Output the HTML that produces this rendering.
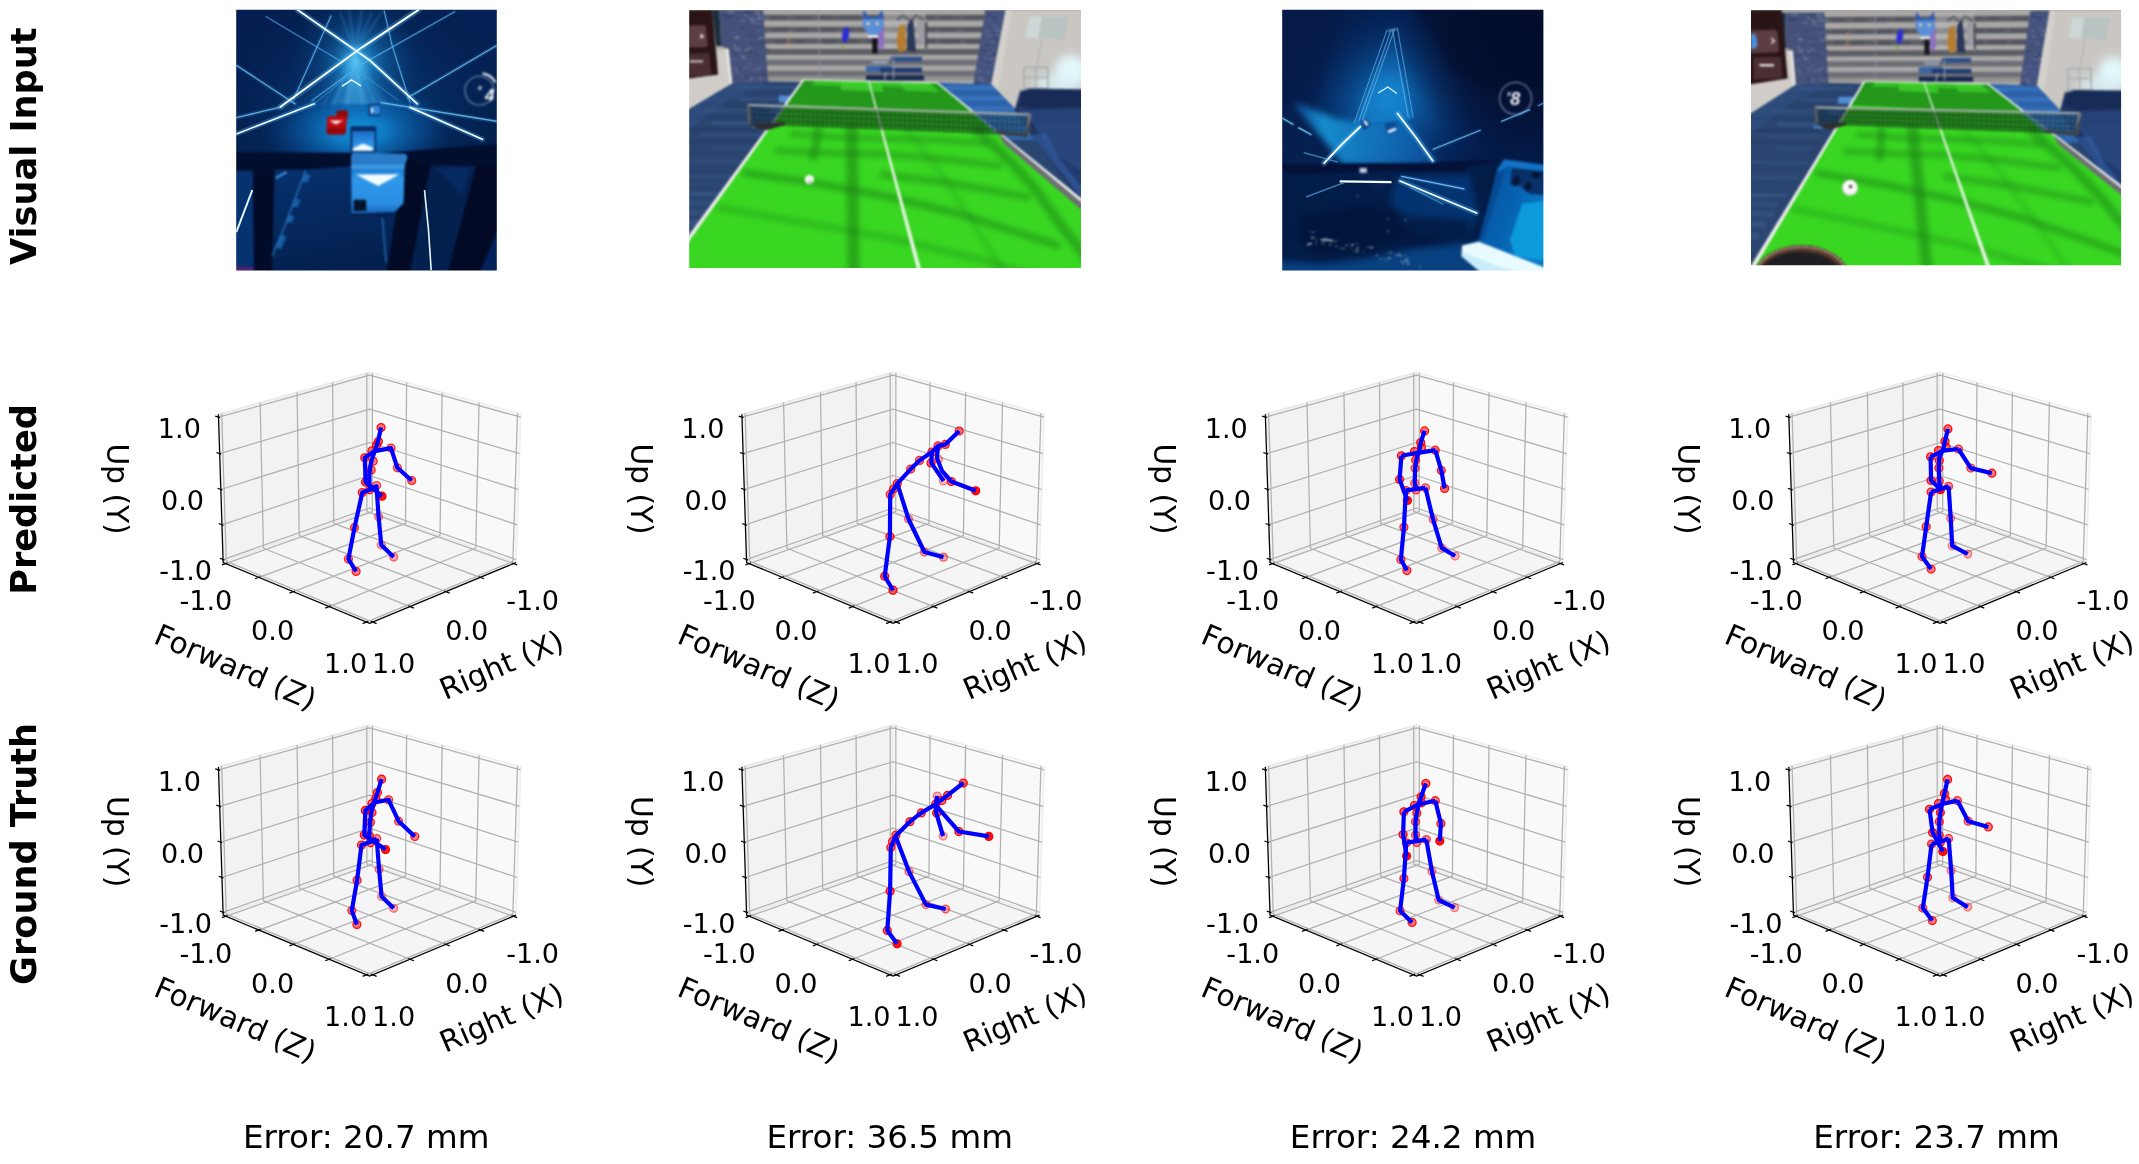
<!DOCTYPE html>
<html lang="en"><head><meta charset="utf-8"><title>Pose estimation: visual input, predicted and ground truth</title>
<style>html,body{margin:0;padding:0;background:#fff}svg{display:block}</style></head>
<body><svg width="2139" height="1164" viewBox="0 0 2139 1164" font-family="'DejaVu Sans','Liberation Sans',sans-serif" fill="#000"><defs><filter id="gs" x="0" y="0" width="100%" height="100%" filterUnits="userSpaceOnUse" color-interpolation-filters="sRGB"><feColorMatrix type="saturate" values="0"/></filter></defs><rect width="2139" height="1164" fill="#fff"/><defs><radialGradient id="u1"><stop offset="0" stop-color="#0a4f90" stop-opacity="0.7"/><stop offset="0.5" stop-color="#073e7c" stop-opacity="0.4"/><stop offset="1" stop-color="#063a7a" stop-opacity="0"/></radialGradient><radialGradient id="u2"><stop offset="0" stop-color="#2aa0e6" stop-opacity="0.8"/><stop offset="0.5" stop-color="#1780cc" stop-opacity="0.4"/><stop offset="1" stop-color="#0f60b0" stop-opacity="0"/></radialGradient><radialGradient id="u3"><stop offset="0" stop-color="#1596e0" stop-opacity="1"/><stop offset="0.3" stop-color="#0f80cc" stop-opacity="0.9"/><stop offset="0.7" stop-color="#0a5aa6" stop-opacity="0.5"/><stop offset="1" stop-color="#084a92" stop-opacity="0"/></radialGradient><radialGradient id="u4" gradientUnits="userSpaceOnUse" cx="356" cy="62" r="66"><stop offset="0" stop-color="#4cc4f6" stop-opacity="0.9"/><stop offset="0.3" stop-color="#1f8cd0" stop-opacity="0.5"/><stop offset="1" stop-color="#0d4e9a" stop-opacity="0"/></radialGradient><radialGradient id="u5" gradientUnits="userSpaceOnUse" cx="240" cy="20" r="120"><stop offset="0" stop-color="#061d52" stop-opacity="0.8"/><stop offset="1" stop-color="#061d52" stop-opacity="0"/></radialGradient><radialGradient id="u6" gradientUnits="userSpaceOnUse" cx="497" cy="15" r="110"><stop offset="0" stop-color="#07225a" stop-opacity="0.8"/><stop offset="1" stop-color="#07225a" stop-opacity="0"/></radialGradient><linearGradient id="u7" gradientUnits="userSpaceOnUse" x1="300" y1="170" x2="320" y2="275"><stop offset="0" stop-color="#07306c" stop-opacity="1"/><stop offset="1" stop-color="#03204e" stop-opacity="1"/></linearGradient><linearGradient id="u8" gradientUnits="userSpaceOnUse" x1="352" y1="131" x2="352" y2="151"><stop offset="0" stop-color="#1a6cc2" stop-opacity="1"/><stop offset="0.6" stop-color="#2c90e4" stop-opacity="1"/><stop offset="1" stop-color="#3aa4f0" stop-opacity="1"/></linearGradient><linearGradient id="u9" gradientUnits="userSpaceOnUse" x1="352" y1="165" x2="352" y2="213"><stop offset="0" stop-color="#1a74cc" stop-opacity="1"/><stop offset="0.3" stop-color="#2f98ea" stop-opacity="1"/><stop offset="0.8" stop-color="#2a8ee2" stop-opacity="1"/><stop offset="1" stop-color="#1868bf" stop-opacity="1"/></linearGradient><clipPath id="u10"><rect x="236.2" y="9.7" width="260.6" height="260.8"/></clipPath><filter id="u11" x="206.2" y="-20.3" width="320.6" height="320.8" filterUnits="userSpaceOnUse" color-interpolation-filters="sRGB"><feGaussianBlur stdDeviation="0.8"/></filter><filter id="u12" x="206.2" y="-20.3" width="320.6" height="320.8" filterUnits="userSpaceOnUse" color-interpolation-filters="sRGB"><feGaussianBlur stdDeviation="0.6"/></filter><filter id="u13" x="659.2" y="-20" width="451.8" height="317.9" filterUnits="userSpaceOnUse" color-interpolation-filters="sRGB"><feGaussianBlur stdDeviation="5"/></filter><clipPath id="u14"><polygon points="640,138 732.5,83.2 768,81.6 810,80 640,316"/></clipPath><clipPath id="u15"><polygon points="936.5,82.6 991.3,84.4 1014.7,108.5 1036,140 1010,140"/></clipPath><clipPath id="u16"><polygon points="803.5,79.6 936.5,82.6 1130,241.3 1130,300 644.7,300"/></clipPath><filter id="u17" x="659.2" y="-20" width="451.8" height="317.9" filterUnits="userSpaceOnUse" color-interpolation-filters="sRGB"><feGaussianBlur stdDeviation="2.4"/></filter><clipPath id="u18"><rect x="689.2" y="10" width="391.8" height="257.9"/></clipPath><filter id="u19" x="659.2" y="-20" width="451.8" height="317.9" filterUnits="userSpaceOnUse" color-interpolation-filters="sRGB"><feGaussianBlur stdDeviation="0.8"/></filter><radialGradient id="u20" gradientUnits="userSpaceOnUse" cx="1388" cy="100" r="120"><stop offset="0" stop-color="#1488d4" stop-opacity="0.9"/><stop offset="0.3" stop-color="#0c62b0" stop-opacity="0.7"/><stop offset="0.7" stop-color="#07387c" stop-opacity="0.3"/><stop offset="1" stop-color="#052c68" stop-opacity="0"/></radialGradient><radialGradient id="u21" gradientUnits="userSpaceOnUse" cx="1530" cy="25" r="135"><stop offset="0" stop-color="#030a24" stop-opacity="0.9"/><stop offset="0.6" stop-color="#040f30" stop-opacity="0.8"/><stop offset="1" stop-color="#040f30" stop-opacity="0"/></radialGradient><radialGradient id="u22" gradientUnits="userSpaceOnUse" cx="1290" cy="20" r="110"><stop offset="0" stop-color="#051a46" stop-opacity="0.8"/><stop offset="1" stop-color="#051a46" stop-opacity="0"/></radialGradient><linearGradient id="u23" gradientUnits="userSpaceOnUse" x1="1295" y1="0" x2="1440" y2="0"><stop offset="0" stop-color="#0c4e98" stop-opacity="1"/><stop offset="0.2" stop-color="#158ccc" stop-opacity="1"/><stop offset="0.6" stop-color="#1272bc" stop-opacity="0.9"/><stop offset="1" stop-color="#0d58a6" stop-opacity="0.7"/></linearGradient><filter id="u24" x="1252.2" y="-20.3" width="321.2" height="320.8" filterUnits="userSpaceOnUse" color-interpolation-filters="sRGB"><feGaussianBlur stdDeviation="3.2"/></filter><linearGradient id="u25" gradientUnits="userSpaceOnUse" x1="1390" y1="30" x2="1386" y2="122"><stop offset="0" stop-color="#1478c8" stop-opacity="0.1"/><stop offset="0.6" stop-color="#1c94e0" stop-opacity="0.5"/><stop offset="1" stop-color="#168ad8" stop-opacity="0.6"/></linearGradient><linearGradient id="u26" gradientUnits="userSpaceOnUse" x1="1470" y1="200" x2="1545" y2="230"><stop offset="0" stop-color="#07509e" stop-opacity="1"/><stop offset="0.5" stop-color="#0662b0" stop-opacity="1"/><stop offset="1" stop-color="#0a7cc6" stop-opacity="1"/></linearGradient><clipPath id="u27"><rect x="1282.2" y="9.7" width="261.2" height="260.8"/></clipPath><filter id="u28" x="1252.2" y="-20.3" width="321.2" height="320.8" filterUnits="userSpaceOnUse" color-interpolation-filters="sRGB"><feGaussianBlur stdDeviation="0.8"/></filter><filter id="u29" x="1252.2" y="-20.3" width="321.2" height="320.8" filterUnits="userSpaceOnUse" color-interpolation-filters="sRGB"><feGaussianBlur stdDeviation="0.6"/></filter><filter id="u30" x="1721" y="-20" width="430.1" height="315.3" filterUnits="userSpaceOnUse" color-interpolation-filters="sRGB"><feGaussianBlur stdDeviation="5"/></filter><clipPath id="u31"><polygon points="1711.6,138.6 1795.9,84.5 1828.3,82.9 1866.9,81.3 1708,318.7"/></clipPath><clipPath id="u32"><polygon points="1984.9,83.8 2037,85.7 2059.9,110.3 2081.1,142.7 2055.9,142.6"/></clipPath><clipPath id="u33"><polygon points="1864.6,81.1 1986.8,83.5 2205.1,252.9 2218.3,321.6 1729,306.7"/></clipPath><filter id="u34" x="1721" y="-20" width="430.1" height="315.3" filterUnits="userSpaceOnUse" color-interpolation-filters="sRGB"><feGaussianBlur stdDeviation="2.4"/></filter><clipPath id="u35"><rect x="1751" y="10" width="370.1" height="255.3"/></clipPath><filter id="u36" x="1721" y="-20" width="430.1" height="315.3" filterUnits="userSpaceOnUse" color-interpolation-filters="sRGB"><feGaussianBlur stdDeviation="0.8"/></filter></defs><g clip-path="url(#u10)"><g filter="url(#u11)"><rect x="230" y="4" width="274" height="274" fill="#031f4c"/><ellipse cx="356" cy="100" rx="150" ry="110" fill="url(#u1)"/><ellipse cx="355" cy="75" rx="30" ry="55" fill="url(#u2)"/><ellipse cx="358" cy="130" rx="92" ry="52" fill="url(#u3)"/><rect x="230" y="4" width="274" height="160" fill="url(#u4)"/><rect x="230" y="4" width="274" height="274" fill="url(#u5)"/><rect x="230" y="4" width="274" height="274" fill="url(#u6)"/><polygon points="355,52 330,104 384,104" fill="#56c4fb" opacity=".2"/><polygon points="355,52 343,104 368,104" fill="#7ad6ff" opacity=".18"/><polyline points="355,52 322,106" fill="none" stroke="#8fdcff" stroke-width="0.9" opacity=".3"/><polyline points="355,52 333,106" fill="none" stroke="#8fdcff" stroke-width="0.9" opacity=".3"/><polyline points="355,52 347,106" fill="none" stroke="#8fdcff" stroke-width="0.9" opacity=".3"/><polyline points="355,52 362,106" fill="none" stroke="#8fdcff" stroke-width="0.9" opacity=".3"/><polyline points="355,52 375,106" fill="none" stroke="#8fdcff" stroke-width="0.9" opacity=".3"/><polyline points="355,52 388,106" fill="none" stroke="#8fdcff" stroke-width="0.9" opacity=".3"/><polyline points="355,52 340,12" fill="none" stroke="#6fc8fa" stroke-width="0.9" opacity=".4"/><polyline points="355,52 349,10" fill="none" stroke="#6fc8fa" stroke-width="0.9" opacity=".4"/><polyline points="355,52 362,10" fill="none" stroke="#6fc8fa" stroke-width="0.9" opacity=".4"/><polyline points="355,52 372,12" fill="none" stroke="#6fc8fa" stroke-width="0.9" opacity=".4"/><polyline points="355,52 383,10" fill="none" stroke="#6fc8fa" stroke-width="0.9" opacity=".4"/><circle cx="479.3" cy="90.6" r="14.4" fill="none" stroke="#8fb4d6" stroke-width="1.1" opacity=".75"/><path d="M482.5,73.5 A17,17 0 0 1 495.5,82.5" fill="none" stroke="#f3f8fc" stroke-width="2"/><text x="485" y="100.5" font-size="17" font-weight="bold" font-style="italic" fill="#f4f7fb" font-family="'Liberation Sans','DejaVu Sans',sans-serif">4</text><text x="477.8" y="89.8" font-size="8" font-weight="bold" font-style="italic" fill="#e6edf5" font-family="'Liberation Sans','DejaVu Sans',sans-serif">x</text><polygon points="230,171 272,169.5 306,169.5 350,166 408,159 431,165 504,150 504,278 230,278" fill="#04225a" /><polygon points="274.5,169.7 352,166.5 352,213 405,213 390,278 272,278" fill="url(#u7)" /><polygon points="430.6,164.9 476.3,164.9 446,278 409,278" fill="#04204f" /><polygon points="230,171 252.9,169.7 254.1,278 230,278" fill="#063270" /><polygon points="252.9,169.7 274.5,169.7 272.1,278 254.1,278" fill="#020b28" /><polygon points="404,158.9 430.6,164.9 408.9,278 386.1,278" fill="#020a26" /><polygon points="476.3,164.9 504,146 504,215 477.5,278 446.2,278" fill="#020a26" /><polygon points="436,168 470,168 463,196" fill="#07306c" opacity=".6"/><polygon points="230,152.2 361.1,152.8 350.3,166.3 306,169.8 272,169.8 230,171.2" fill="#020e2e" /><polygon points="375,153.5 504,143.5 504,166 431,165.4 404.5,159.4 398,165.5 375,166" fill="#020e2e" /><polyline points="305.8,170.3 296,196 285,226 272.1,256.3" fill="none" stroke="#2a80cc" stroke-width="1.4" opacity=".85"/><polygon points="304.5,173.7 310.5,174.7 307.4,182.5 301.4,181.5" fill="#1f70bc" opacity=".75"/><polygon points="294.7,198.7 300.7,199.7 297.6,207.4 291.6,206.4" fill="#1f70bc" opacity=".75"/><polygon points="288.3,215 294.3,216 291.6,222.9 285.6,221.9" fill="#1f70bc" opacity=".75"/><polygon points="280.5,234.8 286.5,235.8 281.5,248.7 275.5,247.7" fill="#1f70bc" opacity=".75"/><polyline points="275.7,178.1 286.5,172.1" fill="none" stroke="#4aa8ec" stroke-width="2" opacity=".9"/><polyline points="382.4,217.8 386.1,262.3" fill="none" stroke="#3a8fd8" stroke-width="1.2" opacity=".8"/><polygon points="236,266.5 254,267.5 254,271 236,271" fill="#5a1d74" /><polygon points="368.6,104.4 380,103.2 381.2,114.5 379.5,115.9 369.5,115.9 368.4,114.5" fill="#0e2f6e" /><polygon points="370.3,106 379.7,105.2 380.2,114.2 370.8,114.6" fill="#2f86d8" /><polygon points="370.8,106.8 373.8,110.4 370.9,114" fill="#eef9ff" /><polygon points="336.5,111.5 338,110.4 346.5,110.2 347.9,111.5 347.5,119.5 336.2,119.5" fill="#8f080c" /><polygon points="327.2,117.5 329,115.9 344.5,115.7 346.7,117.4 346,132.5 344,134.5 328.5,134.5 326.4,132.6" fill="#bb0a10" /><polygon points="327.2,128 346.3,128 346,132.5 344,134.5 328.5,134.5 326.4,132.6" fill="#8a060a" opacity=".8"/><polygon points="329.2,120.5 343.1,120.5 336,124.6" fill="#fbefee" /><polygon points="350.2,127.5 352,126.3 375,126.3 376.3,127.8 376,152.6 350.6,152.6" fill="#0a2c66" /><polygon points="352.3,131 374.6,131 374.3,151 352.6,151" fill="url(#u8)" /><polygon points="352.7,148.6 363,143.6 372.6,147.6 372.6,150.8 352.7,150.8" fill="#f2fbff" /><polygon points="351.1,155 353.5,152.4 405.5,153.8 407.7,156.5 404.5,166.5 351.1,166.5" fill="#2a7cc8" /><polygon points="351.3,164.5 404.6,164.5 403.6,203 395,212.2 351.6,213.6" fill="url(#u9)" /><polygon points="351.3,164.5 404.6,164.5 404.4,169 351.3,169" fill="#3f9ae2" opacity=".9"/><polygon points="356,174.4 399.5,174.2 378.2,186" fill="#f4fcff" /><polygon points="353.5,199.7 366,199.7 366.4,210.8 353.7,211.2" fill="#04122c" /><polygon points="352,213.6 395,212.2 393,216.5 352,217.5" fill="#06204e" opacity=".8"/></g><g filter="url(#u12)"><polyline points="266.1,16.6 339.5,60.5" fill="none" stroke="#2f9be6" stroke-width="2.6" opacity="0.2" stroke-linecap="round"/><polyline points="266.1,16.6 339.5,60.5" fill="none" stroke="#7cc6f2" stroke-width="0.8" opacity="0.7" stroke-linecap="round"/><polyline points="331,16 293.7,99" fill="none" stroke="#2f9be6" stroke-width="3.4" opacity="0.2" stroke-linecap="round"/><polyline points="331,16 293.7,99" fill="none" stroke="#7cc6f2" stroke-width="1" opacity="0.8" stroke-linecap="round"/><polyline points="236.3,65.3 295,103.8" fill="none" stroke="#3aa8ee" stroke-width="3.9" opacity="0.2" stroke-linecap="round"/><polyline points="236.3,65.3 295,103.8" fill="none" stroke="#7cc6f2" stroke-width="1.2" opacity="0.8" stroke-linecap="round"/><polyline points="454.6,11.8 362,64.1 312,100.5" fill="none" stroke="#2f9be6" stroke-width="3.1" opacity="0.2" stroke-linecap="round"/><polyline points="454.6,11.8 362,64.1 312,100.5" fill="none" stroke="#7cc6f2" stroke-width="1" opacity="0.7" stroke-linecap="round"/><polyline points="384.3,11.2 392,45 410.1,102.6" fill="none" stroke="#2f9be6" stroke-width="3.1" opacity="0.2" stroke-linecap="round"/><polyline points="384.3,11.2 392,45 410.1,102.6" fill="none" stroke="#7cc6f2" stroke-width="1" opacity="0.7" stroke-linecap="round"/><polyline points="496.7,45.5 407.7,97.8" fill="none" stroke="#3aa8ee" stroke-width="3.9" opacity="0.2" stroke-linecap="round"/><polyline points="496.7,45.5 407.7,97.8" fill="none" stroke="#7cc6f2" stroke-width="1.2" opacity="0.8" stroke-linecap="round"/><polyline points="362,73.8 398,100.2" fill="none" stroke="#2f9be6" stroke-width="2.6" opacity="0.1" stroke-linecap="round"/><polyline points="362,73.8 398,100.2" fill="none" stroke="#5aaee6" stroke-width="0.8" opacity="0.5" stroke-linecap="round"/><polyline points="236.3,117.7 281.7,106.8" fill="none" stroke="#3aa8ee" stroke-width="4.2" opacity="0.2" stroke-linecap="round"/><polyline points="236.3,117.7 281.7,106.8" fill="none" stroke="#7cc6f2" stroke-width="1.3" opacity="0.8" stroke-linecap="round"/><polyline points="236.3,133.9 314.2,103.8" fill="none" stroke="#49b6f5" stroke-width="5.2" opacity="0.3" stroke-linecap="round"/><polyline points="236.3,133.9 314.2,103.8" fill="none" stroke="#f2fcff" stroke-width="1.6" opacity="1" stroke-linecap="round"/><polyline points="314.2,103.8 362.3,64.1" fill="none" stroke="#2f9be6" stroke-width="2.6" opacity="0.1" stroke-linecap="round"/><polyline points="314.2,103.8 362.3,64.1" fill="none" stroke="#5aaee6" stroke-width="0.8" opacity="0.5" stroke-linecap="round"/><polyline points="381.2,102.6 496.7,121.3" fill="none" stroke="#3aa8ee" stroke-width="4.4" opacity="0.2" stroke-linecap="round"/><polyline points="381.2,102.6 496.7,121.3" fill="none" stroke="#7cc6f2" stroke-width="1.4" opacity="0.8" stroke-linecap="round"/><polyline points="410.1,107.4 482.3,139.3" fill="none" stroke="#49b6f5" stroke-width="5.5" opacity="0.3" stroke-linecap="round"/><polyline points="410.1,107.4 482.3,139.3" fill="none" stroke="#f6fdff" stroke-width="1.7" opacity="1" stroke-linecap="round"/><polyline points="297.4,9.8 370,60.5 417.3,103.8" fill="none" stroke="#55bff8" stroke-width="5.7" opacity="0.3" stroke-linecap="round"/><polyline points="297.4,9.8 370,60.5 417.3,103.8" fill="none" stroke="#f6fdff" stroke-width="1.8" opacity="1" stroke-linecap="round"/><polyline points="418.5,9.8 362,47.3 280.5,106.8" fill="none" stroke="#55bff8" stroke-width="6.5" opacity="0.3" stroke-linecap="round"/><polyline points="418.5,9.8 362,47.3 280.5,106.8" fill="none" stroke="#fafeff" stroke-width="2" opacity="1" stroke-linecap="round"/><polyline points="341.9,86.4 351.5,79.8 361.1,85.8" fill="none" stroke="#e8f9ff" stroke-width="1.5" stroke-linejoin="miter"/><polyline points="252.3,190.1 236.3,232.2" fill="none" stroke="#e6fbff" stroke-width="1.9" /><polyline points="424.5,190.1 428.5,230 431.2,270.5" fill="none" stroke="#e6fbff" stroke-width="1.6" /></g></g><g clip-path="url(#u18)"><g filter="url(#u19)"><rect x="684.2" y="5" width="401.8" height="267.9" fill="#a9a7a5"/><polygon points="755,14.7 995,14.7 995,20.5 755,20.5" fill="#5c5e66" /><polygon points="755,26.8 995,26.8 995,32.6 755,32.6" fill="#5c5e66" /><polygon points="755,38.2 995,38.2 995,44 755,44" fill="#5c5e66" /><polygon points="755,49 995,49 995,54.8 755,54.8" fill="#5c5e66" /><polygon points="755,59.8 995,59.8 995,65.6 755,65.6" fill="#6e6f76" /><polygon points="755,70.7 995,70.7 995,76.5 755,76.5" fill="#6e6f76" /><polygon points="770.4,15.3 785.3,15.3 785.3,19.9 770.4,19.9" fill="#4d505c" opacity=".6"/><polygon points="795.2,15.3 810.7,15.3 810.7,19.9 795.2,19.9" fill="#4d505c" opacity=".6"/><polygon points="820.8,15.3 831.3,15.3 831.3,19.9 820.8,19.9" fill="#4d505c" opacity=".6"/><polygon points="841.1,15.3 858.6,15.3 858.6,19.9 841.1,19.9" fill="#4d505c" opacity=".6"/><polygon points="866.6,15.3 878.7,15.3 878.7,19.9 866.6,19.9" fill="#4d505c" opacity=".6"/><polygon points="895,15.3 909.2,15.3 909.2,19.9 895,19.9" fill="#4d505c" opacity=".6"/><polygon points="918,15.3 932.3,15.3 932.3,19.9 918,19.9" fill="#4d505c" opacity=".6"/><polygon points="940.8,15.3 952.2,15.3 952.2,19.9 940.8,19.9" fill="#4d505c" opacity=".6"/><polygon points="964.8,15.3 982.6,15.3 982.6,19.9 964.8,19.9" fill="#4d505c" opacity=".6"/><polygon points="772.1,27.4 788.8,27.4 788.8,32 772.1,32" fill="#4d505c" opacity=".6"/><polygon points="797,27.4 807.6,27.4 807.6,32 797,32" fill="#4d505c" opacity=".6"/><polygon points="821.5,27.4 836.9,27.4 836.9,32 821.5,32" fill="#4d505c" opacity=".6"/><polygon points="842.8,27.4 853.1,27.4 853.1,32 842.8,32" fill="#4d505c" opacity=".6"/><polygon points="870.2,27.4 884.4,27.4 884.4,32 870.2,32" fill="#4d505c" opacity=".6"/><polygon points="893.3,27.4 911.2,27.4 911.2,32 893.3,32" fill="#4d505c" opacity=".6"/><polygon points="917.3,27.4 935.6,27.4 935.6,32 917.3,32" fill="#4d505c" opacity=".6"/><polygon points="939.4,27.4 956.6,27.4 956.6,32 939.4,32" fill="#4d505c" opacity=".6"/><polygon points="963.7,27.4 982.1,27.4 982.1,32 963.7,32" fill="#4d505c" opacity=".6"/><polygon points="774.3,38.8 785.2,38.8 785.2,43.4 774.3,43.4" fill="#4d505c" opacity=".6"/><polygon points="793.8,38.8 805.8,38.8 805.8,43.4 793.8,43.4" fill="#4d505c" opacity=".6"/><polygon points="822.8,38.8 836.7,38.8 836.7,43.4 822.8,43.4" fill="#4d505c" opacity=".6"/><polygon points="844.8,38.8 857.5,38.8 857.5,43.4 844.8,43.4" fill="#4d505c" opacity=".6"/><polygon points="868,38.8 881.5,38.8 881.5,43.4 868,43.4" fill="#4d505c" opacity=".6"/><polygon points="891.1,38.8 906.4,38.8 906.4,43.4 891.1,43.4" fill="#4d505c" opacity=".6"/><polygon points="916.5,38.8 934.6,38.8 934.6,43.4 916.5,43.4" fill="#4d505c" opacity=".6"/><polygon points="941.1,38.8 959.5,38.8 959.5,43.4 941.1,43.4" fill="#4d505c" opacity=".6"/><polygon points="966.1,38.8 985.1,38.8 985.1,43.4 966.1,43.4" fill="#4d505c" opacity=".6"/><polygon points="818.5,10 819.7,10 819.7,80 818.5,80" fill="#9a9a9c" opacity=".6"/><polygon points="766,76.5 988,76.5 988,80.5 766,80.5" fill="#8d8c8c" opacity=".8"/><polygon points="640,10 712.1,10 718.1,74.8 640,85" fill="#2a1416" /><polygon points="712.1,10 719.3,10 721.1,45.9 716.3,46" fill="#1b2c3a" /><polygon points="680,26 705.5,25 708,45 706,47.3 680,47.4" fill="#5c3d41" /><polygon points="680,53.5 709,53.1 711.5,73 709,76 680,76.5" fill="#4a2e32" /><polygon points="700.5,33.6 704.5,36.3 700.5,39" fill="#e8e0e0" /><polygon points="689.5,60.3 703,60.3 703,62.5 689.5,62.5" fill="#c9b9ba" /><polygon points="716.9,49.5 728.9,48.9 732.5,83.2 640,138 640,85 718.1,74.8" fill="#d0cdc8" /><polygon points="728.9,48.9 732.5,83.2 729.5,85 725.5,49.1" fill="#e6e4e0" /><polygon points="719.3,10 763.2,10 768,82 732.5,83.2 728.9,48.9 721.1,45.9" fill="#465179" /><polygon points="749.9,22.3 756.7,22.3 756.7,23.9 749.9,23.9" fill="#5b6a98" opacity=".75"/><polygon points="759.9,50.3 765.5,50.3 765.5,51.9 759.9,51.9" fill="#44609a" opacity=".75"/><polygon points="748.2,79.2 752.4,79.2 752.4,80.8 748.2,80.8" fill="#5b6a98" opacity=".75"/><polygon points="763.6,17.1 768.2,17.1 768.2,18.7 763.6,18.7" fill="#6e7696" opacity=".75"/><polygon points="727.5,31.3 734,31.3 734,32.9 727.5,32.9" fill="#2f3b66" opacity=".75"/><polygon points="735.2,71.8 740.3,71.8 740.3,73.4 735.2,73.4" fill="#5b6a98" opacity=".75"/><polygon points="763.9,32.4 767.4,32.4 767.4,34 763.9,34" fill="#6e7696" opacity=".75"/><polygon points="744,76.5 748.2,76.5 748.2,78.1 744,78.1" fill="#2f3b66" opacity=".75"/><polygon points="732.3,58.6 736.6,58.6 736.6,60.2 732.3,60.2" fill="#5b6a98" opacity=".75"/><polygon points="762.2,72.9 766.7,72.9 766.7,74.5 762.2,74.5" fill="#2f3b66" opacity=".75"/><polygon points="758.4,37.6 764.1,37.6 764.1,39.2 758.4,39.2" fill="#7d86a4" opacity=".75"/><polygon points="755.9,29.7 761.8,29.7 761.8,31.3 755.9,31.3" fill="#44609a" opacity=".75"/><polygon points="731.2,31.8 736.3,31.8 736.3,33.4 731.2,33.4" fill="#5b6a98" opacity=".75"/><polygon points="744.6,11.8 751.5,11.8 751.5,13.4 744.6,13.4" fill="#2f3b66" opacity=".75"/><polygon points="734.5,37 740.1,37 740.1,38.6 734.5,38.6" fill="#7d86a4" opacity=".75"/><polygon points="741,57.9 746.5,57.9 746.5,59.5 741,59.5" fill="#5b6a98" opacity=".75"/><polygon points="733,44.8 736.2,44.8 736.2,46.4 733,46.4" fill="#7d86a4" opacity=".75"/><polygon points="750.1,77.5 755.6,77.5 755.6,79.1 750.1,79.1" fill="#5b6a98" opacity=".75"/><polygon points="733.8,52.5 738.3,52.5 738.3,54.1 733.8,54.1" fill="#3a4672" opacity=".75"/><polygon points="734.4,36.5 738.5,36.5 738.5,38.1 734.4,38.1" fill="#7d86a4" opacity=".75"/><polygon points="754.9,18.2 761.7,18.2 761.7,19.8 754.9,19.8" fill="#6e7696" opacity=".75"/><polygon points="750.4,20.1 754.3,20.1 754.3,21.7 750.4,21.7" fill="#7d86a4" opacity=".75"/><polygon points="755.6,27.5 761.3,27.5 761.3,29.1 755.6,29.1" fill="#3a4672" opacity=".75"/><polygon points="748.9,17.7 753.2,17.7 753.2,19.3 748.9,19.3" fill="#7d86a4" opacity=".75"/><polygon points="735.4,68.5 741.6,68.5 741.6,70.1 735.4,70.1" fill="#2f3b66" opacity=".75"/><polygon points="762.3,16.5 767.9,16.5 767.9,18.1 762.3,18.1" fill="#44609a" opacity=".75"/><polygon points="759.1,42.1 765.2,42.1 765.2,43.7 759.1,43.7" fill="#3a4672" opacity=".75"/><polygon points="734.6,68.7 738.3,68.7 738.3,70.3 734.6,70.3" fill="#7d86a4" opacity=".75"/><polygon points="733,66.7 736.3,66.7 736.3,68.3 733,68.3" fill="#44609a" opacity=".75"/><polygon points="747.6,51.7 751.8,51.7 751.8,53.3 747.6,53.3" fill="#2f3b66" opacity=".75"/><polygon points="755.1,29.7 760.7,29.7 760.7,31.3 755.1,31.3" fill="#5b6a98" opacity=".75"/><polygon points="733.5,50.2 740.2,50.2 740.2,51.8 733.5,51.8" fill="#6e7696" opacity=".75"/><polygon points="727.7,11.3 734.7,11.3 734.7,12.9 727.7,12.9" fill="#7d86a4" opacity=".75"/><polygon points="739.7,76.6 743.6,76.6 743.6,78.2 739.7,78.2" fill="#44609a" opacity=".75"/><polygon points="753.1,68.7 759,68.7 759,70.3 753.1,70.3" fill="#44609a" opacity=".75"/><polygon points="762.4,48.5 768.9,48.5 768.9,50.1 762.4,50.1" fill="#3a4672" opacity=".75"/><polygon points="757.9,78 764.1,78 764.1,79.6 757.9,79.6" fill="#6e7696" opacity=".75"/><polygon points="750.8,74.7 756.1,74.7 756.1,76.3 750.8,76.3" fill="#2f3b66" opacity=".75"/><polygon points="728.4,31.7 731.5,31.7 731.5,33.3 728.4,33.3" fill="#44609a" opacity=".75"/><polygon points="744.1,14.7 747.5,14.7 747.5,16.3 744.1,16.3" fill="#7d86a4" opacity=".75"/><polygon points="744.3,67 748.7,67 748.7,68.6 744.3,68.6" fill="#6e7696" opacity=".75"/><polygon points="756.1,22.8 762.8,22.8 762.8,24.4 756.1,24.4" fill="#5b6a98" opacity=".75"/><polygon points="755.7,67.8 760.6,67.8 760.6,69.4 755.7,69.4" fill="#6e7696" opacity=".75"/><polygon points="745.5,38.6 749.5,38.6 749.5,40.2 745.5,40.2" fill="#5b6a98" opacity=".75"/><polygon points="747.6,46.9 752.5,46.9 752.5,48.5 747.6,48.5" fill="#6e7696" opacity=".75"/><polygon points="754.4,11.1 760.5,11.1 760.5,12.7 754.4,12.7" fill="#6e7696" opacity=".75"/><polygon points="723,14.4 729.9,14.4 729.9,16 723,16" fill="#2f3b66" opacity=".75"/><polygon points="757.7,16.9 762.7,16.9 762.7,18.5 757.7,18.5" fill="#7d86a4" opacity=".75"/><polygon points="727.8,16 733.3,16 733.3,17.6 727.8,17.6" fill="#2f3b66" opacity=".75"/><polygon points="746.2,35.9 753.2,35.9 753.2,37.5 746.2,37.5" fill="#3a4672" opacity=".75"/><polygon points="739.4,19.8 745.3,19.8 745.3,21.4 739.4,21.4" fill="#6e7696" opacity=".75"/><polygon points="737.4,16.5 740.5,16.5 740.5,18.1 737.4,18.1" fill="#3a4672" opacity=".75"/><polygon points="740.8,55.9 745.3,55.9 745.3,57.5 740.8,57.5" fill="#7d86a4" opacity=".75"/><polygon points="755.4,54 758.7,54 758.7,55.6 755.4,55.6" fill="#2f3b66" opacity=".75"/><polygon points="748,63.4 752.7,63.4 752.7,65 748,65" fill="#5b6a98" opacity=".75"/><polygon points="750.8,42.8 754.7,42.8 754.7,44.4 750.8,44.4" fill="#3a4672" opacity=".75"/><polygon points="732.6,51.7 736.5,51.7 736.5,53.3 732.6,53.3" fill="#2f3b66" opacity=".75"/><polygon points="726.6,12.9 731.1,12.9 731.1,14.5 726.6,14.5" fill="#5b6a98" opacity=".75"/><polygon points="759.6,65.6 763.1,65.6 763.1,67.2 759.6,67.2" fill="#5b6a98" opacity=".75"/><polygon points="750.7,75.8 756.3,75.8 756.3,77.4 750.7,77.4" fill="#44609a" opacity=".75"/><polygon points="759.2,65.7 762.6,65.7 762.6,67.3 759.2,67.3" fill="#44609a" opacity=".75"/><polygon points="734.7,47.7 740.6,47.7 740.6,49.3 734.7,49.3" fill="#7d86a4" opacity=".75"/><polygon points="741.4,27.3 744.5,27.3 744.5,28.9 741.4,28.9" fill="#2f3b66" opacity=".75"/><polygon points="724.9,17.9 728.7,17.9 728.7,19.5 724.9,19.5" fill="#2f3b66" opacity=".75"/><polygon points="750,68.7 755.3,68.7 755.3,70.3 750,70.3" fill="#5b6a98" opacity=".75"/><polygon points="755.3,13.5 760.4,13.5 760.4,15.1 755.3,15.1" fill="#7d86a4" opacity=".75"/><polygon points="751.8,18.4 755.2,18.4 755.2,20 751.8,20" fill="#44609a" opacity=".75"/><polygon points="744.8,49 748.5,49 748.5,50.6 744.8,50.6" fill="#7d86a4" opacity=".75"/><polygon points="985.3,10 1005.7,10 991.3,84.4 973.2,85" fill="#46537c" /><polygon points="1000.4,16.6 1004.1,16.6 1004.1,18.2 1000.4,18.2" fill="#39508c" opacity=".75"/><polygon points="989.2,55.4 992.9,55.4 992.9,57 989.2,57" fill="#2f3b66" opacity=".75"/><polygon points="992.2,54.2 996.4,54.2 996.4,55.8 992.2,55.8" fill="#44609a" opacity=".75"/><polygon points="992.3,17 997.8,17 997.8,18.6 992.3,18.6" fill="#2f3b66" opacity=".75"/><polygon points="979.6,80.6 984.9,80.6 984.9,82.2 979.6,82.2" fill="#44609a" opacity=".75"/><polygon points="984.9,59.5 988.4,59.5 988.4,61.1 984.9,61.1" fill="#2f3b66" opacity=".75"/><polygon points="994.1,39.9 997.4,39.9 997.4,41.5 994.1,41.5" fill="#3a4672" opacity=".75"/><polygon points="989.8,64.9 995.6,64.9 995.6,66.5 989.8,66.5" fill="#44609a" opacity=".75"/><polygon points="991.2,53.2 995,53.2 995,54.8 991.2,54.8" fill="#3a4672" opacity=".75"/><polygon points="992.1,25.3 997.9,25.3 997.9,26.9 992.1,26.9" fill="#5b6a98" opacity=".75"/><polygon points="982.9,72.3 987.9,72.3 987.9,73.9 982.9,73.9" fill="#5b6a98" opacity=".75"/><polygon points="983.7,72.6 988.4,72.6 988.4,74.2 983.7,74.2" fill="#44609a" opacity=".75"/><polygon points="985.4,30.2 989.2,30.2 989.2,31.8 985.4,31.8" fill="#6e7696" opacity=".75"/><polygon points="978.6,68.9 982.7,68.9 982.7,70.5 978.6,70.5" fill="#44609a" opacity=".75"/><polygon points="993.5,34.2 997.7,34.2 997.7,35.8 993.5,35.8" fill="#3a4672" opacity=".75"/><polygon points="987.3,61.2 991.7,61.2 991.7,62.8 987.3,62.8" fill="#3a4672" opacity=".75"/><polygon points="987.2,71.1 990.3,71.1 990.3,72.7 987.2,72.7" fill="#44609a" opacity=".75"/><polygon points="974.5,82.5 979.8,82.5 979.8,84.1 974.5,84.1" fill="#2f3b66" opacity=".75"/><polygon points="975.4,74.5 981.1,74.5 981.1,76.1 975.4,76.1" fill="#3a4672" opacity=".75"/><polygon points="989.1,57.7 995,57.7 995,59.3 989.1,59.3" fill="#6e7696" opacity=".75"/><polygon points="978.6,72.5 983.9,72.5 983.9,74.1 978.6,74.1" fill="#3a4672" opacity=".75"/><polygon points="993.5,20.9 999.1,20.9 999.1,22.5 993.5,22.5" fill="#39508c" opacity=".75"/><polygon points="978.2,75.8 982.1,75.8 982.1,77.4 978.2,77.4" fill="#6e7696" opacity=".75"/><polygon points="991.4,41.5 994.7,41.5 994.7,43.1 991.4,43.1" fill="#6e7696" opacity=".75"/><polygon points="996.4,30 1000.5,30 1000.5,31.6 996.4,31.6" fill="#6e7696" opacity=".75"/><polygon points="988.5,52.8 991.6,52.8 991.6,54.4 988.5,54.4" fill="#6e7696" opacity=".75"/><polygon points="987.2,34.9 990.8,34.9 990.8,36.5 987.2,36.5" fill="#6e7696" opacity=".75"/><polygon points="992.6,53.1 996,53.1 996,54.7 992.6,54.7" fill="#2f3b66" opacity=".75"/><polygon points="995.2,34 1000.2,34 1000.2,35.6 995.2,35.6" fill="#6e7696" opacity=".75"/><polygon points="998.1,19.1 1001.4,19.1 1001.4,20.7 998.1,20.7" fill="#5b6a98" opacity=".75"/><polygon points="979.4,78.8 984.7,78.8 984.7,80.4 979.4,80.4" fill="#5b6a98" opacity=".75"/><polygon points="992.3,32.3 998.1,32.3 998.1,33.9 992.3,33.9" fill="#39508c" opacity=".75"/><polygon points="977.1,69.8 982.1,69.8 982.1,71.4 977.1,71.4" fill="#5b6a98" opacity=".75"/><polygon points="980.5,49.6 985.1,49.6 985.1,51.2 980.5,51.2" fill="#2f3b66" opacity=".75"/><polygon points="989.2,15.3 993.9,15.3 993.9,16.9 989.2,16.9" fill="#39508c" opacity=".75"/><polygon points="993.3,24.1 996.7,24.1 996.7,25.7 993.3,25.7" fill="#39508c" opacity=".75"/><polygon points="995.1,37.7 998.4,37.7 998.4,39.3 995.1,39.3" fill="#2f3b66" opacity=".75"/><polygon points="976.2,78.1 981.1,78.1 981.1,79.7 976.2,79.7" fill="#5b6a98" opacity=".75"/><polygon points="983.8,57.8 988.7,57.8 988.7,59.4 983.8,59.4" fill="#5b6a98" opacity=".75"/><polygon points="984.5,44 989.7,44 989.7,45.6 984.5,45.6" fill="#3a4672" opacity=".75"/><polygon points="986.8,18.7 991.4,18.7 991.4,20.3 986.8,20.3" fill="#44609a" opacity=".75"/><polygon points="981.7,64.3 985.5,64.3 985.5,65.9 981.7,65.9" fill="#5b6a98" opacity=".75"/><polygon points="986.7,14.9 991.2,14.9 991.2,16.5 986.7,16.5" fill="#2f3b66" opacity=".75"/><polygon points="994.4,28.8 1000,28.8 1000,30.4 994.4,30.4" fill="#5b6a98" opacity=".75"/><polygon points="980.4,79 984.5,79 984.5,80.6 980.4,80.6" fill="#6e7696" opacity=".75"/><polygon points="976.8,72 981.6,72 981.6,73.6 976.8,73.6" fill="#5b6a98" opacity=".75"/><polygon points="985.5,60.1 988.8,60.1 988.8,61.7 985.5,61.7" fill="#39508c" opacity=".75"/><polygon points="985.3,61.3 990.5,61.3 990.5,62.9 985.3,62.9" fill="#39508c" opacity=".75"/><polygon points="986.4,69.7 991.2,69.7 991.2,71.3 986.4,71.3" fill="#44609a" opacity=".75"/><polygon points="986.5,72.9 991.1,72.9 991.1,74.5 986.5,74.5" fill="#44609a" opacity=".75"/><polygon points="1005.7,10 1090,10 1090,92 1019.6,89.2 1014.7,108.5 991.3,84.4" fill="#cac7c3" /><polygon points="1005.7,10 1012,10 998,91 991.3,84.4" fill="#d9d6d2" opacity=".7"/><g filter="url(#u13)"><ellipse cx="1071" cy="72" rx="16" ry="17" fill="#e4fbff" opacity=".95"/><ellipse cx="1058" cy="84" rx="24" ry="10" fill="#daf0f4" opacity=".8"/></g><polygon points="1029.2,17 1068.9,17 1064.1,39.9 1025,37.5" fill="#b9c4c2" /><polygon points="1029.2,17 1042,17 1038,38.3 1025,37.5" fill="#cdd7d5" /><polyline points="1042.4,39.9 1036.4,67.6" fill="none" stroke="#aeb0b0" stroke-width="1.2" /><polyline points="1023.8,67.6 1047.8,67.6 1047.8,88.6 1023.8,88.6 1023.8,67.6" fill="none" stroke="#a4afaf" stroke-width="1.6" /><polyline points="1035.8,67.6 1035.8,88.6" fill="none" stroke="#a4afaf" stroke-width="1.4" /><polyline points="1023.8,77.5 1047.8,77.5" fill="none" stroke="#a4afaf" stroke-width="1.4" /><polygon points="884,12 926,12 926,48 884,48" fill="#bdbcbc" opacity=".5"/><polygon points="872.2,36 877.6,36 877.6,53.5 872.2,53.5" fill="#15151a" /><polygon points="878.5,22 883.5,22 884.5,46 879,51 877.8,40" fill="#8f70c2" /><ellipse cx="845.6" cy="35" rx="3.4" ry="8.2" fill="#2a2ed2" transform="rotate(8 845.6 35)" /><polyline points="843.5,43 842.6,51" fill="none" stroke="#7a9a30" stroke-width="1.2" /><polyline points="789,30 788,50" fill="none" stroke="#d09060" stroke-width="1" opacity=".7"/><polygon points="863.5,10 868.5,17 877,17 882.5,10 883.5,26 878,35 869,35 862.5,26" fill="#5b90d8" /><polygon points="863.5,10 868.5,17 877,17 882.5,10 882.8,19 863,19" fill="#2e58ac" /><circle cx="868.2" cy="23.5" r="1.6" fill="#e9d9a0" /><circle cx="877.2" cy="23.5" r="1.6" fill="#e9d9a0" /><polygon points="868,35 878,35 878,38 868,38" fill="#e8e8e8" /><polygon points="899,26 905,24 906.5,50 899,52 896.5,42" fill="#b57d2f" /><polygon points="907.5,24 913,18 916,52 907,51" fill="#2b3758" /><polygon points="917,22 924,20 926,44 919,46" fill="#9d9ca2" /><polygon points="925,22 927.2,22 927.2,48 925,48" fill="#4a4a55" /><polyline points="897,20 903,15 910,21 916,15 924,20" fill="none" stroke="#44464e" stroke-width="1.2" /><polygon points="872,61 888,61 888,63.4 872,63.4" fill="#9fb6d8" opacity=".8"/><polygon points="866,66 892,66 892,72 866,72" fill="#3a64a6" /><polygon points="890.8,56.7 922.1,56.7 922.1,61.5 890.8,61.5" fill="#2c4f8a" /><polygon points="880,67.6 922.1,67.6 922.1,72.4 880,72.4" fill="#203c72" /><polygon points="866,75.5 924,75.5 924,80.5 866,80.5" fill="#15294f" /><polyline points="893.5,58 893.5,79" fill="none" stroke="#8a95a8" stroke-width="1.3" /><polyline points="886,72 884.5,80" fill="none" stroke="#aab3c2" stroke-width="1.1" /><polygon points="640,138 732.5,83.2 768,81.6 973.2,84.6 991.3,84.4 1014.7,108.5 1130,250 1130,300 640,300" fill="#2a4570" /><g clip-path="url(#u14)"><polygon points="735,86 795,86 795,88.2 735,88.2" fill="#3d5f8d" opacity=".6"/><polygon points="715,92 800,92 800,94.6 715,94.6" fill="#274171" opacity=".6"/><polygon points="738,97.5 800,97.5 800,99.9 738,99.9" fill="#3b5c8c" opacity=".6"/><polygon points="700,103 795,103 795,106 700,106" fill="#243d69" opacity=".6"/><polygon points="705,109 775,109 775,111.4 705,111.4" fill="#395986" opacity=".6"/><polygon points="640,116 764,116 764,119 640,119" fill="#253e6a" opacity=".6"/><polygon points="712,122 762,122 762,124.2 712,124.2" fill="#426797" opacity=".6"/><polygon points="640,128 760,128 760,131 640,131" fill="#233963" opacity=".6"/><polygon points="700,134 760,134 760,136.4 700,136.4" fill="#365684" opacity=".6"/><polygon points="640,140 760,140 760,143 640,143" fill="#273d66" opacity=".6"/><polygon points="712,146 752,146 752,148.4 712,148.4" fill="#365481" opacity=".6"/><polygon points="640,152 750,152 750,155.2 640,155.2" fill="#2d436a" opacity=".6"/><polygon points="640,160 748,160 748,163 640,163" fill="#375684" opacity=".6"/><polygon points="640,167 740,167 740,170.4 640,170.4" fill="#2d456e" opacity=".6"/><polygon points="640,175 735,175 735,178 640,178" fill="#395885" opacity=".6"/><polygon points="640,183 728,183 728,187 640,187" fill="#2f4a77" opacity=".6"/><polygon points="640,192 723,192 723,196 640,196" fill="#3c5c8a" opacity=".6"/><polygon points="640,201 715,201 715,205 640,205" fill="#375684" opacity=".6"/><polygon points="640,210 710,210 710,215 640,215" fill="#3a5986" opacity=".6"/><polygon points="640,220 702,220 702,226 640,226" fill="#3d5c89" opacity=".6"/><polygon points="640,231 694,231 694,238 640,238" fill="#3c5c8a" opacity=".6"/><polygon points="779,95.5 795,95.5 795,102.5 779,102.5" fill="#5a98e0" opacity=".85"/><polygon points="770,108 782,108 782,113 770,113" fill="#4f8ad4" opacity=".8"/><polygon points="752,124.5 762,124.5 762,127.5 752,127.5" fill="#4a86d2" opacity=".8"/><polygon points="640,138 732.5,83.2 768,81.6 760,88 730,100 640,165" fill="#3a66a2" opacity=".22"/></g><polygon points="936.5,82.6 991.3,84.4 1014.7,108.5 1036,140 1010,140" fill="#2f66ae" /><g clip-path="url(#u15)"><polygon points="940,87 1000,87 1000,89 940,89" fill="#3c7cc8" opacity=".8"/><polygon points="945,92 1007,92 1007,94.2 945,94.2" fill="#2a5a9e" opacity=".8"/><polygon points="950,97 1010,97 1010,99.2 950,99.2" fill="#3f80cc" opacity=".8"/><polygon points="955,102 1015,102 1015,104.2 955,104.2" fill="#2b5fa6" opacity=".8"/><polygon points="960,107 1020,107 1020,109.4 960,109.4" fill="#3a78c4" opacity=".8"/><polygon points="968,112 1028,112 1028,114.4 968,114.4" fill="#2d62aa" opacity=".8"/><polygon points="975,118 1035,118 1035,121 975,121" fill="#3a76c0" opacity=".8"/><polygon points="985,125 1045,125 1045,128 985,128" fill="#2b5a9c" opacity=".8"/></g><polygon points="1020.2,91.6 1030.4,88.6 1090,89.2 1090,212 1034,140 1014.7,110" fill="#1e3462" /><polygon points="1022,92.5 1031,90 1090,91 1090,106 1030,108 1020,104" fill="#182b57" /><polygon points="1018,108 1030,110 1090,108 1090,120 1040,128 1022,118" fill="#27447a" opacity=".9"/><polygon points="1033,125 1090,121 1090,178 1050,150" fill="#29477f" opacity=".9"/><polygon points="1040,140 1090,182 1090,212" fill="#223d74" /><polygon points="1030,135 1046,133 1060,160 1090,197 1090,208" fill="#3762a6" opacity=".55"/><polygon points="803.5,79.6 936.5,82.6 1130,241.3 1130,300 644.7,300" fill="#39d722" /><polygon points="803.5,79.6 936.5,82.6 972,112.5 786,104.5" fill="#23981b" /><polygon points="815,80.5 925,83 932,88 812,85.5" fill="#35c326" opacity=".9"/><polygon points="842,80.5 880,81.5 884,92 840,90" fill="#3fd02c" opacity=".8"/><polygon points="900,82 930,83 940,92 905,91" fill="#3fd02c" opacity=".7"/><g clip-path="url(#u16)"><g filter="url(#u17)"><polyline points="742.7,172.5 815,183 890,197 960,214 1060,246" fill="none" stroke="#1a7d14" stroke-width="7.5" opacity="0.48"/><polyline points="715,207 800,222 890,238 990,262 1080,290" fill="none" stroke="#1a7d14" stroke-width="7" opacity="0.3"/><polyline points="790,134 840,137.5 880,138.4 940,140 988,143.5" fill="none" stroke="#1a7d14" stroke-width="6" opacity="0.43"/><polyline points="775,150.5 830,153 880,154 945,159 1002,166" fill="none" stroke="#1a7d14" stroke-width="6.5" opacity="0.43"/><polyline points="880,174.5 950,183 1030,197.5" fill="none" stroke="#1a7d14" stroke-width="7" opacity="0.43"/><polyline points="818.5,126 816,145 812.5,160" fill="none" stroke="#1a7d14" stroke-width="8" opacity="0.48"/><polyline points="851.5,126 852.5,180 854,300" fill="none" stroke="#1a7d14" stroke-width="12" opacity="0.52"/><polyline points="975,128 990,142 1012,163 1036,190 1060,224 1100,275" fill="none" stroke="#1a7d14" stroke-width="10" opacity="0.48"/><polyline points="905,128 935,165 965,210 1020,300" fill="none" stroke="#1a7d14" stroke-width="7" opacity="0.19"/></g></g><polygon points="802.3,79.6 804.8,79.6 647,300 641.5,300" fill="#f1efee" /><polygon points="803.5,79.2 936.5,82.2 937.5,83.6 803,80.6" fill="#e9f3e6" /><polygon points="935.6,82.2 938,82.4 1130,237.6 1130,242.4" fill="#f6f6f6" /><polygon points="999,133.6 1130,242.4 1130,251 1003,143" fill="#6d6f72" /><polygon points="868,80.2 869.2,80.2 929.5,300 925,300" fill="#f0f5ee" /><polygon points="747.6,105 1030.4,114.5 1027.4,135.5 748.8,124.5" fill="#10301a" opacity=".5"/><polygon points="747.6,105 786,106.3 771,125.2 748.8,124.5" fill="#2a4a90" opacity=".45"/><polygon points="972.5,112.6 1030.4,114.5 1027.4,135.5 997,134.2" fill="#3a70c8" opacity=".45"/><polyline points="748,109.9 1029,119.8" fill="none" stroke="#0a1a10" stroke-width="0.9" opacity=".5"/><polyline points="748,114.8 1029,125" fill="none" stroke="#0a1a10" stroke-width="0.9" opacity=".5"/><polyline points="748,119.6 1029,130.2" fill="none" stroke="#0a1a10" stroke-width="0.9" opacity=".5"/><polyline points="750,105.3 749.7,124.8" fill="none" stroke="#0a1a10" stroke-width="0.8" opacity=".38"/><polyline points="754.9,105.4 754.6,125" fill="none" stroke="#0a1a10" stroke-width="0.8" opacity=".38"/><polyline points="759.7,105.6 759.4,125.2" fill="none" stroke="#0a1a10" stroke-width="0.8" opacity=".38"/><polyline points="764.5,105.8 764.2,125.4" fill="none" stroke="#0a1a10" stroke-width="0.8" opacity=".38"/><polyline points="769.4,105.9 769.1,125.6" fill="none" stroke="#0a1a10" stroke-width="0.8" opacity=".38"/><polyline points="774.2,106.1 774,125.8" fill="none" stroke="#0a1a10" stroke-width="0.8" opacity=".38"/><polyline points="779.1,106.3 778.8,126" fill="none" stroke="#0a1a10" stroke-width="0.8" opacity=".38"/><polyline points="784,106.4 783.7,126.2" fill="none" stroke="#0a1a10" stroke-width="0.8" opacity=".38"/><polyline points="788.8,106.6 788.5,126.4" fill="none" stroke="#0a1a10" stroke-width="0.8" opacity=".38"/><polyline points="793.6,106.7 793.4,126.6" fill="none" stroke="#0a1a10" stroke-width="0.8" opacity=".38"/><polyline points="798.5,106.9 798.2,126.8" fill="none" stroke="#0a1a10" stroke-width="0.8" opacity=".38"/><polyline points="803.4,107.1 803.1,127" fill="none" stroke="#0a1a10" stroke-width="0.8" opacity=".38"/><polyline points="808.2,107.2 807.9,127.1" fill="none" stroke="#0a1a10" stroke-width="0.8" opacity=".38"/><polyline points="813,107.4 812.8,127.3" fill="none" stroke="#0a1a10" stroke-width="0.8" opacity=".38"/><polyline points="817.9,107.6 817.6,127.5" fill="none" stroke="#0a1a10" stroke-width="0.8" opacity=".38"/><polyline points="822.8,107.7 822.5,127.7" fill="none" stroke="#0a1a10" stroke-width="0.8" opacity=".38"/><polyline points="827.6,107.9 827.3,127.9" fill="none" stroke="#0a1a10" stroke-width="0.8" opacity=".38"/><polyline points="832.5,108.1 832.2,128.1" fill="none" stroke="#0a1a10" stroke-width="0.8" opacity=".38"/><polyline points="837.3,108.2 837,128.3" fill="none" stroke="#0a1a10" stroke-width="0.8" opacity=".38"/><polyline points="842.1,108.4 841.9,128.5" fill="none" stroke="#0a1a10" stroke-width="0.8" opacity=".38"/><polyline points="847,108.5 846.7,128.7" fill="none" stroke="#0a1a10" stroke-width="0.8" opacity=".38"/><polyline points="851.9,108.7 851.6,128.9" fill="none" stroke="#0a1a10" stroke-width="0.8" opacity=".38"/><polyline points="856.7,108.9 856.4,129.1" fill="none" stroke="#0a1a10" stroke-width="0.8" opacity=".38"/><polyline points="861.5,109 861.2,129.3" fill="none" stroke="#0a1a10" stroke-width="0.8" opacity=".38"/><polyline points="866.4,109.2 866.1,129.4" fill="none" stroke="#0a1a10" stroke-width="0.8" opacity=".38"/><polyline points="871.2,109.4 871,129.6" fill="none" stroke="#0a1a10" stroke-width="0.8" opacity=".38"/><polyline points="876.1,109.5 875.8,129.8" fill="none" stroke="#0a1a10" stroke-width="0.8" opacity=".38"/><polyline points="881,109.7 880.7,130" fill="none" stroke="#0a1a10" stroke-width="0.8" opacity=".38"/><polyline points="885.8,109.8 885.5,130.2" fill="none" stroke="#0a1a10" stroke-width="0.8" opacity=".38"/><polyline points="890.6,110 890.4,130.4" fill="none" stroke="#0a1a10" stroke-width="0.8" opacity=".38"/><polyline points="895.5,110.2 895.2,130.6" fill="none" stroke="#0a1a10" stroke-width="0.8" opacity=".38"/><polyline points="900.4,110.3 900.1,130.8" fill="none" stroke="#0a1a10" stroke-width="0.8" opacity=".38"/><polyline points="905.2,110.5 904.9,131" fill="none" stroke="#0a1a10" stroke-width="0.8" opacity=".38"/><polyline points="910,110.7 909.8,131.2" fill="none" stroke="#0a1a10" stroke-width="0.8" opacity=".38"/><polyline points="914.9,110.8 914.6,131.4" fill="none" stroke="#0a1a10" stroke-width="0.8" opacity=".38"/><polyline points="919.8,111 919.5,131.6" fill="none" stroke="#0a1a10" stroke-width="0.8" opacity=".38"/><polyline points="924.6,111.1 924.3,131.7" fill="none" stroke="#0a1a10" stroke-width="0.8" opacity=".38"/><polyline points="929.5,111.3 929.2,131.9" fill="none" stroke="#0a1a10" stroke-width="0.8" opacity=".38"/><polyline points="934.3,111.5 934,132.1" fill="none" stroke="#0a1a10" stroke-width="0.8" opacity=".38"/><polyline points="939.1,111.6 938.9,132.3" fill="none" stroke="#0a1a10" stroke-width="0.8" opacity=".38"/><polyline points="944,111.8 943.7,132.5" fill="none" stroke="#0a1a10" stroke-width="0.8" opacity=".38"/><polyline points="948.9,112 948.6,132.7" fill="none" stroke="#0a1a10" stroke-width="0.8" opacity=".38"/><polyline points="953.7,112.1 953.4,132.9" fill="none" stroke="#0a1a10" stroke-width="0.8" opacity=".38"/><polyline points="958.5,112.3 958.2,133.1" fill="none" stroke="#0a1a10" stroke-width="0.8" opacity=".38"/><polyline points="963.4,112.5 963.1,133.3" fill="none" stroke="#0a1a10" stroke-width="0.8" opacity=".38"/><polyline points="968.2,112.6 968,133.5" fill="none" stroke="#0a1a10" stroke-width="0.8" opacity=".38"/><polyline points="973.1,112.8 972.8,133.7" fill="none" stroke="#0a1a10" stroke-width="0.8" opacity=".38"/><polyline points="978,112.9 977.7,133.9" fill="none" stroke="#0a1a10" stroke-width="0.8" opacity=".38"/><polyline points="982.8,113.1 982.5,134" fill="none" stroke="#0a1a10" stroke-width="0.8" opacity=".38"/><polyline points="987.6,113.3 987.4,134.2" fill="none" stroke="#0a1a10" stroke-width="0.8" opacity=".38"/><polyline points="992.5,113.4 992.2,134.4" fill="none" stroke="#0a1a10" stroke-width="0.8" opacity=".38"/><polyline points="997.4,113.6 997.1,134.6" fill="none" stroke="#0a1a10" stroke-width="0.8" opacity=".38"/><polyline points="1002.2,113.8 1001.9,134.8" fill="none" stroke="#0a1a10" stroke-width="0.8" opacity=".38"/><polyline points="1007,113.9 1006.8,135" fill="none" stroke="#0a1a10" stroke-width="0.8" opacity=".38"/><polyline points="1011.9,114.1 1011.6,135.2" fill="none" stroke="#0a1a10" stroke-width="0.8" opacity=".38"/><polyline points="1016.8,114.2 1016.5,135.4" fill="none" stroke="#0a1a10" stroke-width="0.8" opacity=".38"/><polyline points="1021.6,114.4 1021.3,135.6" fill="none" stroke="#0a1a10" stroke-width="0.8" opacity=".38"/><polyline points="1026.5,114.6 1026.2,135.8" fill="none" stroke="#0a1a10" stroke-width="0.8" opacity=".38"/><polyline points="747.6,105 1030.4,114.5" fill="none" stroke="#a9acaa" stroke-width="2.2" /><polyline points="748.4,105 749.6,125" fill="none" stroke="#5a5c5e" stroke-width="3" /><polyline points="1030,114.5 1027,136.3" fill="none" stroke="#77797b" stroke-width="3.2" /><polygon points="747.6,123.6 784.9,122.3 785,124.9 766.8,130.3 759.6,129" fill="#2d2d2f" /><polygon points="1031.6,116 1027.6,137 1000.3,134.5 993.1,131.3 1000,131 1025.5,133.4" fill="#3b3d40" /><circle cx="809.4" cy="179.6" r="4.6" fill="#f4f4f4" /><ellipse cx="810.2" cy="182.3" rx="2.2" ry="1.1" fill="#8a8a92" opacity=".8"/></g></g><g clip-path="url(#u27)"><g filter="url(#u28)"><g filter="url(#u24)"><rect x="1270" y="0" width="286" height="286" fill="#031a48"/><rect x="1270" y="0" width="286" height="286" fill="url(#u20)"/><rect x="1270" y="0" width="286" height="286" fill="url(#u21)"/><rect x="1270" y="0" width="286" height="286" fill="url(#u22)"/><polygon points="1405,0 1556,0 1556,85 1490,92 1452,70 1430,30" fill="#040e2e" opacity=".55"/><polygon points="1270,0 1345,0 1330,60 1315,110 1270,120" fill="#051a48" opacity=".5"/><polygon points="1292,102 1312,109 1338,119.5 1367,123 1404,120 1440,165 1343,165 1322,138" fill="url(#u23)" /><polygon points="1270,104 1296,110 1324,140 1346,168 1270,168" fill="#06204f" opacity=".85"/><polygon points="1270,172 1360,171 1416,168 1470,168 1500,160 1556,160 1556,286 1270,286" fill="#021c48" /><polygon points="1397,176 1470,175 1478,215 1462,245 1408,232 1390,200" fill="#053a7c" opacity=".8"/><polygon points="1408,216 1470,220 1462,248 1408,250" fill="#021640" opacity=".8"/><polygon points="1270,261 1325,263.5 1372,257.5 1416,248 1463,243 1497,272 1497,286 1270,286" fill="#084080" /><polygon points="1300,215 1360,206 1405,212 1412,236 1370,252 1318,256 1296,240" fill="#011236" opacity=".6"/></g><polygon points="1392,29 1355,124 1412,119" fill="url(#u25)" /><polyline points="1386.7,31.1 1397.5,28.7" fill="none" stroke="#8fd2f8" stroke-width="1" /><polygon points="1360.5,121 1366,118.5 1370.5,123 1368,128.5 1362,129" fill="#0b3d86" /><polygon points="1364.5,119.8 1368.5,123.8 1366.8,126.5 1363.3,121.6" fill="#eaf8ff" /><polygon points="1384.5,123.5 1396,121.5 1397.5,131.5 1387,134.5" fill="#0d4a98" /><polygon points="1387.5,130.8 1395.8,127.6 1396.3,130.2 1388.3,133.3" fill="#f0faff" /><circle cx="1515.6" cy="98.4" r="16" fill="none" stroke="#7e88ac" stroke-width="1.3" opacity=".9"/><text x="1510.2" y="105.4" font-size="18" font-weight="bold" font-style="italic" fill="#f4f7fb" font-family="'Liberation Sans','DejaVu Sans',sans-serif">8</text><text x="1507" y="96.2" font-size="7.5" font-weight="bold" font-style="italic" fill="#e6edf5" font-family="'Liberation Sans','DejaVu Sans',sans-serif">x</text><polygon points="1270,163.7 1416,163.1 1498.2,159.5 1495.8,162.2 1466.9,166.3 1465.7,171 1416,172 1396.3,171.3 1360.2,172.3 1289.2,174.7 1282.6,171 1270,171" fill="#04123a" /><polygon points="1353,172.1 1397.5,179.3 1375.8,194.9" fill="#06204f" /><polygon points="1359.6,167.9 1366.8,167.9 1366.8,172.9 1359.6,172.9" fill="#dfeaf5" opacity=".85"/><polyline points="1356.2,252 1358.1,252" fill="none" stroke="#eef8ff" stroke-width="0.8" opacity="0.5"/><polyline points="1363.1,252.2 1364.1,251.9" fill="none" stroke="#eef8ff" stroke-width="0.6" opacity="0.9"/><polyline points="1379.1,258.9 1382.3,259.1" fill="none" stroke="#eef8ff" stroke-width="0.8" opacity="0.5"/><polyline points="1308.8,232 1310,231.6" fill="none" stroke="#eef8ff" stroke-width="0.6" opacity="0.7"/><polyline points="1356.6,247.6 1359,247.6" fill="none" stroke="#eef8ff" stroke-width="0.9" opacity="0.7"/><polyline points="1340,248.2 1342.8,248.5" fill="none" stroke="#eef8ff" stroke-width="0.7" opacity="0.6"/><polyline points="1335.6,246.2 1337.4,246.7" fill="none" stroke="#eef8ff" stroke-width="0.8" opacity="0.9"/><polyline points="1395.5,255.1 1398.5,255.1" fill="none" stroke="#eef8ff" stroke-width="1" opacity="0.6"/><polyline points="1315.7,240.7 1317.1,240" fill="none" stroke="#eef8ff" stroke-width="0.7" opacity="0.9"/><polyline points="1386.6,253.2 1387.6,252.5" fill="none" stroke="#eef8ff" stroke-width="0.9" opacity="0.5"/><polyline points="1367.1,247.4 1369.6,246.9" fill="none" stroke="#eef8ff" stroke-width="0.9" opacity="0.5"/><polyline points="1350.7,244.6 1353.8,245.1" fill="none" stroke="#eef8ff" stroke-width="0.7" opacity="0.9"/><polyline points="1329.1,245 1331.5,244.4" fill="none" stroke="#eef8ff" stroke-width="1" opacity="0.6"/><polyline points="1336.5,241 1338,240.3" fill="none" stroke="#eef8ff" stroke-width="0.6" opacity="0.7"/><polyline points="1333.9,241 1335.7,241.8" fill="none" stroke="#eef8ff" stroke-width="0.8" opacity="0.7"/><polyline points="1398.7,255.1 1401.7,255.6" fill="none" stroke="#eef8ff" stroke-width="0.7" opacity="0.5"/><polyline points="1389.5,252.2 1392.6,252.8" fill="none" stroke="#eef8ff" stroke-width="0.8" opacity="0.7"/><polyline points="1315.4,243.3 1316.8,243.7" fill="none" stroke="#eef8ff" stroke-width="0.7" opacity="0.9"/><polyline points="1370.2,248.3 1372.7,247.6" fill="none" stroke="#eef8ff" stroke-width="0.7" opacity="0.7"/><polyline points="1399.7,256 1402.7,255.5" fill="none" stroke="#eef8ff" stroke-width="0.6" opacity="0.6"/><polyline points="1352.5,244.4 1354.2,244.5" fill="none" stroke="#eef8ff" stroke-width="0.7" opacity="0.6"/><polyline points="1406.1,260.7 1408.6,260.9" fill="none" stroke="#eef8ff" stroke-width="0.7" opacity="0.5"/><polyline points="1311.4,238.5 1314.5,237.7" fill="none" stroke="#eef8ff" stroke-width="0.9" opacity="0.7"/><polyline points="1384.8,260 1385.8,260.1" fill="none" stroke="#eef8ff" stroke-width="0.9" opacity="0.9"/><polyline points="1387.8,258.1 1390.8,257.9" fill="none" stroke="#eef8ff" stroke-width="0.9" opacity="0.9"/><polyline points="1400.6,261.6 1403.5,261.7" fill="none" stroke="#eef8ff" stroke-width="0.8" opacity="0.6"/><polyline points="1370.6,247 1372.9,247.7" fill="none" stroke="#eef8ff" stroke-width="1" opacity="0.8"/><polyline points="1350.4,246.9 1352.2,247.5" fill="none" stroke="#eef8ff" stroke-width="0.6" opacity="0.8"/><polyline points="1310.8,236.6 1312.2,236.9" fill="none" stroke="#eef8ff" stroke-width="0.8" opacity="0.8"/><polyline points="1404.9,255 1406.5,255.3" fill="none" stroke="#eef8ff" stroke-width="0.7" opacity="0.5"/><polyline points="1405.8,259 1408.7,258.7" fill="none" stroke="#eef8ff" stroke-width="0.9" opacity="0.5"/><polyline points="1355.4,251.3 1358.3,251.2" fill="none" stroke="#eef8ff" stroke-width="0.8" opacity="0.6"/><polyline points="1321.7,242.9 1324.5,243.2" fill="none" stroke="#eef8ff" stroke-width="1" opacity="0.6"/><polyline points="1325,238.1 1326.3,238" fill="none" stroke="#eef8ff" stroke-width="0.9" opacity="0.7"/><polyline points="1343.1,249 1345,248.3" fill="none" stroke="#eef8ff" stroke-width="0.6" opacity="0.9"/><polyline points="1312.7,237.8 1314.3,238.3" fill="none" stroke="#eef8ff" stroke-width="0.6" opacity="0.5"/><polyline points="1353.3,251.1 1354.6,250.5" fill="none" stroke="#eef8ff" stroke-width="0.6" opacity="0.8"/><polyline points="1356,249.2 1358.7,249.9" fill="none" stroke="#eef8ff" stroke-width="0.9" opacity="0.5"/><polyline points="1356.4,243.5 1358.3,243.8" fill="none" stroke="#eef8ff" stroke-width="0.7" opacity="0.6"/><polyline points="1345.5,245.2 1347.8,245.6" fill="none" stroke="#eef8ff" stroke-width="0.8" opacity="0.8"/><polyline points="1402.4,263.9 1404.9,263.3" fill="none" stroke="#eef8ff" stroke-width="0.8" opacity="0.8"/><polyline points="1404.5,260.3 1407.4,260.8" fill="none" stroke="#eef8ff" stroke-width="1" opacity="0.7"/><polyline points="1375.6,255.2 1378.3,255.4" fill="none" stroke="#eef8ff" stroke-width="0.9" opacity="0.6"/><polyline points="1407.1,264.2 1409.2,264.6" fill="none" stroke="#eef8ff" stroke-width="0.7" opacity="0.9"/><polyline points="1398.5,254.1 1400.4,254.2" fill="none" stroke="#eef8ff" stroke-width="0.9" opacity="0.7"/><polyline points="1311.9,232.4 1314.6,231.9" fill="none" stroke="#eef8ff" stroke-width="0.7" opacity="0.8"/><polyline points="1321,239.6 1333,240.6" fill="none" stroke="#f4fbff" stroke-width="1.2" /><polyline points="1307,244.5 1312,243.5" fill="none" stroke="#f4fbff" stroke-width="1.2" /><polyline points="1388,218 1388.6,220.2" fill="none" stroke="#9ccdf0" stroke-width="0.9" opacity=".7"/><polyline points="1405,219 1405.6,221.2" fill="none" stroke="#9ccdf0" stroke-width="0.9" opacity=".7"/><polyline points="1388,230 1388.6,232.2" fill="none" stroke="#9ccdf0" stroke-width="0.9" opacity=".7"/><polyline points="1357.5,195 1358.1,197.2" fill="none" stroke="#9ccdf0" stroke-width="0.9" opacity=".7"/><polyline points="1408,262 1408.6,264.2" fill="none" stroke="#9ccdf0" stroke-width="0.9" opacity=".7"/><polyline points="1420,266 1420.6,268.2" fill="none" stroke="#9ccdf0" stroke-width="0.9" opacity=".7"/><polygon points="1504.2,159.5 1556,166.5 1556,286 1497,286 1462.1,255.1 1464.5,244.3 1480.2,239.4 1497,169.7" fill="url(#u26)" /><polygon points="1504.2,159.5 1556,166.5 1556,172.5 1506,166.5 1499,172 1497,169.7" fill="#1272c4" /><polygon points="1522.3,203.4 1556,200 1556,262 1515,256.3 1510,240" fill="#0c9edf" opacity=".9"/><polygon points="1512,168 1556,172.5 1556,196 1530,194 1520,186 1510,184" fill="#0a2a60" opacity=".9"/><ellipse cx="1516" cy="181" rx="3.4" ry="5.5" fill="#051636" transform="rotate(20 1516 181)" /><ellipse cx="1528" cy="186.5" rx="3" ry="4.6" fill="#051636" transform="rotate(20 1528 186.5)" /><ellipse cx="1536" cy="175" rx="5" ry="3" fill="#051636" /><polygon points="1497,172 1505,170 1484,238 1478,240" fill="#06468e" opacity=".8"/><polygon points="1462.1,245.5 1479,241.8 1556,272 1556,286 1497,286 1461.5,256.3" fill="#e9fbff" /><polygon points="1462,252 1497,266 1556,282 1497,286 1461.5,256.3" fill="#bfe9f8" opacity=".8"/></g><g filter="url(#u29)"><polyline points="1386.7,31.1 1354.2,123.1" fill="none" stroke="#3aa6ea" stroke-width="2.3" opacity="0.1" stroke-linecap="round"/><polyline points="1386.7,31.1 1354.2,123.1" fill="none" stroke="#7cc6f2" stroke-width="0.7" opacity="0.8" stroke-linecap="round"/><polyline points="1391,30 1359,120.5" fill="none" stroke="#3aa6ea" stroke-width="2.3" opacity="0.1" stroke-linecap="round"/><polyline points="1391,30 1359,120.5" fill="none" stroke="#7cc6f2" stroke-width="0.7" opacity="0.8" stroke-linecap="round"/><polyline points="1394.5,29.5 1362.6,119.5" fill="none" stroke="#3aa6ea" stroke-width="2.3" opacity="0.1" stroke-linecap="round"/><polyline points="1394.5,29.5 1362.6,119.5" fill="none" stroke="#7cc6f2" stroke-width="0.7" opacity="0.8" stroke-linecap="round"/><polyline points="1397.5,28.7 1413.1,117.1" fill="none" stroke="#3aa6ea" stroke-width="2.3" opacity="0.1" stroke-linecap="round"/><polyline points="1397.5,28.7 1413.1,117.1" fill="none" stroke="#7cc6f2" stroke-width="0.7" opacity="0.8" stroke-linecap="round"/><polyline points="1392.5,30 1408.3,117.1" fill="none" stroke="#3aa6ea" stroke-width="2.3" opacity="0.1" stroke-linecap="round"/><polyline points="1392.5,30 1408.3,117.1" fill="none" stroke="#7cc6f2" stroke-width="0.7" opacity="0.8" stroke-linecap="round"/><polyline points="1378.2,93 1387.9,87 1396.9,93.6" fill="none" stroke="#dff6ff" stroke-width="1.3" /><polyline points="1360.2,126.7 1342.2,144 1324.1,163.1" fill="none" stroke="#4cb8f5" stroke-width="6.2" opacity="0.3" stroke-linecap="round"/><polyline points="1360.2,126.7 1342.2,144 1324.1,163.1" fill="none" stroke="#f6fdff" stroke-width="1.9" opacity="1" stroke-linecap="round"/><polyline points="1397.5,113.5 1416,137.5 1432.7,160.7" fill="none" stroke="#4cb8f5" stroke-width="6.2" opacity="0.3" stroke-linecap="round"/><polyline points="1397.5,113.5 1416,137.5 1432.7,160.7" fill="none" stroke="#f6fdff" stroke-width="1.9" opacity="1" stroke-linecap="round"/><polyline points="1282.6,118.3 1292.8,124.3" fill="none" stroke="#3aa6ea" stroke-width="3.9" opacity="0.2" stroke-linecap="round"/><polyline points="1282.6,118.3 1292.8,124.3" fill="none" stroke="#7cc6f2" stroke-width="1.2" opacity="0.9" stroke-linecap="round"/><polyline points="1298.9,127.9 1310.9,134.5" fill="none" stroke="#3aa6ea" stroke-width="3.9" opacity="0.2" stroke-linecap="round"/><polyline points="1298.9,127.9 1310.9,134.5" fill="none" stroke="#7cc6f2" stroke-width="1.2" opacity="0.9" stroke-linecap="round"/><polyline points="1304.3,152.8 1337.3,161.9" fill="none" stroke="#2f96de" stroke-width="2.6" opacity="0.2" stroke-linecap="round"/><polyline points="1304.3,152.8 1337.3,161.9" fill="none" stroke="#7cc6f2" stroke-width="0.8" opacity="0.7" stroke-linecap="round"/><polyline points="1501.8,121.3 1529.5,109.8" fill="none" stroke="#3aa6ea" stroke-width="3.6" opacity="0.2" stroke-linecap="round"/><polyline points="1501.8,121.3 1529.5,109.8" fill="none" stroke="#7cc6f2" stroke-width="1.1" opacity="0.8" stroke-linecap="round"/><polyline points="1538.5,105.6 1543.3,103.2" fill="none" stroke="#3aa6ea" stroke-width="3.4" opacity="0.2" stroke-linecap="round"/><polyline points="1538.5,105.6 1543.3,103.2" fill="none" stroke="#7cc6f2" stroke-width="1" opacity="0.7" stroke-linecap="round"/><polyline points="1433.3,149.2 1480.2,130.3" fill="none" stroke="#3aa6ea" stroke-width="3.6" opacity="0.2" stroke-linecap="round"/><polyline points="1433.3,149.2 1480.2,130.3" fill="none" stroke="#7cc6f2" stroke-width="1.1" opacity="0.8" stroke-linecap="round"/><polyline points="1339.7,181.4 1391.5,182.2" fill="none" stroke="#f6fcff" stroke-width="2.2" /><polyline points="1306.7,196.7 1343.4,182.9" fill="none" stroke="#2f96de" stroke-width="2.6" opacity="0.2" stroke-linecap="round"/><polyline points="1306.7,196.7 1343.4,182.9" fill="none" stroke="#7cc6f2" stroke-width="0.8" opacity="0.8" stroke-linecap="round"/><polyline points="1401.7,176.3 1463.9,188.9" fill="none" stroke="#3aa6ea" stroke-width="3.9" opacity="0.2" stroke-linecap="round"/><polyline points="1401.7,176.3 1463.9,188.9" fill="none" stroke="#7cc6f2" stroke-width="1.2" opacity="0.9" stroke-linecap="round"/><polyline points="1400,181 1476.6,213" fill="none" stroke="#4cb8f5" stroke-width="5.7" opacity="0.3" stroke-linecap="round"/><polyline points="1400,181 1476.6,213" fill="none" stroke="#f6fdff" stroke-width="1.8" opacity="1" stroke-linecap="round"/><polyline points="1410.4,187.7 1442.9,204" fill="none" stroke="#2f96de" stroke-width="2.6" opacity="0.2" stroke-linecap="round"/><polyline points="1410.4,187.7 1442.9,204" fill="none" stroke="#7cc6f2" stroke-width="0.8" opacity="0.7" stroke-linecap="round"/></g></g><g clip-path="url(#u35)"><g filter="url(#u36)"><rect x="1746" y="5" width="380.1" height="265.3" fill="#a9a7a5"/><polygon points="1817,17 2039.5,15.4 2039.6,21.2 1816.9,22.7" fill="#5c5e66" /><polygon points="1816.9,28.9 2039.7,27.5 2039.8,33.3 1816.8,34.6" fill="#5c5e66" /><polygon points="1816.8,40.1 2039.9,39 2040,44.8 1816.7,45.8" fill="#5c5e66" /><polygon points="1816.7,50.7 2040,49.8 2040.1,55.7 1816.6,56.4" fill="#5c5e66" /><polygon points="1816.6,61.3 2040.2,60.7 2040.3,66.6 1816.5,67.1" fill="#6e6f76" /><polygon points="1816.5,72.1 2040.4,71.8 2040.5,77.6 1816.5,77.9" fill="#6e6f76" /><polygon points="1831,17.5 1844.5,17.4 1844.5,21.9 1830.9,22" fill="#4d505c" opacity=".6"/><polygon points="1853.6,17.3 1867.7,17.2 1867.7,21.8 1853.5,21.9" fill="#4d505c" opacity=".6"/><polygon points="1876.9,17.2 1886.6,17.1 1886.6,21.6 1876.9,21.7" fill="#4d505c" opacity=".6"/><polygon points="1895.6,17 1911.8,16.9 1911.8,21.5 1895.6,21.6" fill="#4d505c" opacity=".6"/><polygon points="1919.1,16.9 1930.4,16.8 1930.4,21.3 1919.1,21.4" fill="#4d505c" opacity=".6"/><polygon points="1945.5,16.7 1958.8,16.6 1958.8,21.1 1945.5,21.2" fill="#4d505c" opacity=".6"/><polygon points="1967,16.5 1980.4,16.4 1980.4,21 1967,21.1" fill="#4d505c" opacity=".6"/><polygon points="1988.4,16.4 1999.1,16.3 1999.1,20.9 1988.4,20.9" fill="#4d505c" opacity=".6"/><polygon points="2010.9,16.2 2027.8,16.1 2027.8,20.7 2011,20.8" fill="#4d505c" opacity=".6"/><polygon points="1832.4,29.4 1847.6,29.3 1847.6,33.8 1832.4,33.9" fill="#4d505c" opacity=".6"/><polygon points="1855.1,29.2 1864.8,29.2 1864.8,33.7 1855.1,33.8" fill="#4d505c" opacity=".6"/><polygon points="1877.6,29.1 1891.7,29 1891.7,33.6 1877.6,33.6" fill="#4d505c" opacity=".6"/><polygon points="1897.2,29 1906.7,28.9 1906.7,33.5 1897.2,33.5" fill="#4d505c" opacity=".6"/><polygon points="1922.5,28.8 1935.8,28.7 1935.8,33.3 1922.5,33.4" fill="#4d505c" opacity=".6"/><polygon points="1944,28.7 1960.7,28.6 1960.8,33.2 1944,33.3" fill="#4d505c" opacity=".6"/><polygon points="1966.4,28.6 1983.6,28.4 1983.6,33 1966.4,33.1" fill="#4d505c" opacity=".6"/><polygon points="1987.1,28.4 2003.3,28.3 2003.4,32.9 1987.2,33" fill="#4d505c" opacity=".6"/><polygon points="2010,28.3 2027.4,28.2 2027.5,32.8 2010.1,32.9" fill="#4d505c" opacity=".6"/><polygon points="1834.3,40.6 1844.2,40.5 1844.2,45 1834.3,45.1" fill="#4d505c" opacity=".6"/><polygon points="1852.2,40.5 1863.1,40.4 1863.1,45 1852.1,45" fill="#4d505c" opacity=".6"/><polygon points="1878.7,40.3 1891.6,40.3 1891.6,44.8 1878.7,44.9" fill="#4d505c" opacity=".6"/><polygon points="1899,40.2 1910.8,40.2 1910.8,44.8 1899,44.8" fill="#4d505c" opacity=".6"/><polygon points="1920.6,40.1 1933.1,40.1 1933.1,44.7 1920.6,44.7" fill="#4d505c" opacity=".6"/><polygon points="1942,40 1956.3,40 1956.3,44.6 1942,44.6" fill="#4d505c" opacity=".6"/><polygon points="1965.8,39.9 1982.8,39.8 1982.8,44.4 1965.8,44.5" fill="#4d505c" opacity=".6"/><polygon points="1988.9,39.8 2006.2,39.7 2006.2,44.3 1988.9,44.4" fill="#4d505c" opacity=".6"/><polygon points="2012.5,39.7 2030.4,39.6 2030.5,44.2 2012.6,44.3" fill="#4d505c" opacity=".6"/><polygon points="1874.9,12 1876,12 1875.8,81.3 1874.7,81.3" fill="#9a9a9c" opacity=".6"/><polygon points="1826.5,77.8 2033.8,77.6 2033.8,81.7 1826.5,81.8" fill="#8d8c8c" opacity=".8"/><polygon points="1714,13.2 1778.3,12.7 1782.9,76.2 1712.6,86.3" fill="#2a1416" /><polygon points="1778.3,12.7 1784.8,12.7 1786,47.8 1781.7,47.9" fill="#1b2c3a" /><polygon points="1782.2,51.3 1793,50.7 1795.9,84.5 1711.6,138.6 1712.6,86.3 1782.9,76.2" fill="#d0cdc8" /><polygon points="1793,50.7 1795.9,84.5 1793.2,86.3 1789.9,50.9" fill="#e6e4e0" /><polygon points="1784.8,12.7 1824.4,12.4 1828.3,83.3 1795.9,84.5 1793,50.7 1786,47.8" fill="#465179" /><polygon points="1812.3,24.4 1818.5,24.4 1818.5,26 1812.2,26" fill="#5b6a98" opacity=".75"/><polygon points="1821.1,51.9 1826.3,51.9 1826.2,53.5 1821.1,53.5" fill="#44609a" opacity=".75"/><polygon points="1810.3,80.5 1814,80.5 1814,82.1 1810.2,82.1" fill="#5b6a98" opacity=".75"/><polygon points="1824.7,19.3 1828.9,19.3 1828.9,20.9 1824.7,20.9" fill="#6e7696" opacity=".75"/><polygon points="1791.9,33.4 1797.8,33.4 1797.8,34.9 1791.9,35" fill="#2f3b66" opacity=".75"/><polygon points="1798.5,73.2 1803.1,73.2 1803.1,74.8 1798.5,74.8" fill="#5b6a98" opacity=".75"/><polygon points="1824.9,34.3 1828.1,34.3 1828.1,35.8 1824.9,35.9" fill="#6e7696" opacity=".75"/><polygon points="1806.5,77.8 1810.3,77.8 1810.2,79.4 1806.4,79.4" fill="#2f3b66" opacity=".75"/><polygon points="1796,60.2 1799.9,60.2 1799.9,61.8 1796,61.8" fill="#5b6a98" opacity=".75"/><polygon points="1823.1,74.2 1827.2,74.2 1827.2,75.8 1823.1,75.8" fill="#2f3b66" opacity=".75"/><polygon points="1819.9,39.5 1825.1,39.5 1825.1,41 1819.9,41.1" fill="#7d86a4" opacity=".75"/><polygon points="1817.7,31.7 1823,31.7 1823,33.3 1817.6,33.3" fill="#44609a" opacity=".75"/><polygon points="1795.3,33.9 1799.9,33.8 1799.9,35.4 1795.3,35.4" fill="#5b6a98" opacity=".75"/><polygon points="1807.6,14.2 1813.9,14.2 1813.8,15.8 1807.6,15.8" fill="#2f3b66" opacity=".75"/><polygon points="1798.2,39 1803.2,38.9 1803.2,40.5 1798.2,40.5" fill="#7d86a4" opacity=".75"/><polygon points="1803.9,59.5 1808.9,59.5 1808.9,61 1803.9,61" fill="#5b6a98" opacity=".75"/><polygon points="1796.8,46.6 1799.7,46.6 1799.7,48.2 1796.7,48.2" fill="#7d86a4" opacity=".75"/><polygon points="1812,78.8 1817,78.8 1817,80.4 1811.9,80.4" fill="#5b6a98" opacity=".75"/><polygon points="1797.5,54.2 1801.5,54.2 1801.5,55.8 1797.4,55.8" fill="#3a4672" opacity=".75"/><polygon points="1798.2,38.5 1801.8,38.4 1801.8,40 1798.1,40" fill="#7d86a4" opacity=".75"/><polygon points="1816.8,20.5 1823.1,20.4 1823,22 1816.8,22" fill="#6e7696" opacity=".75"/><polygon points="1812.8,22.3 1816.3,22.3 1816.3,23.8 1812.7,23.9" fill="#7d86a4" opacity=".75"/><polygon points="1817.4,29.5 1822.6,29.5 1822.6,31.1 1817.4,31.1" fill="#3a4672" opacity=".75"/><polygon points="1811.5,20 1815.3,20 1815.3,21.5 1811.4,21.6" fill="#7d86a4" opacity=".75"/><polygon points="1798.7,70 1804.3,70 1804.3,71.5 1798.6,71.6" fill="#2f3b66" opacity=".75"/><polygon points="1823.6,18.7 1828.7,18.7 1828.7,20.3 1823.6,20.3" fill="#44609a" opacity=".75"/><polygon points="1820.4,43.9 1826,43.9 1826,45.5 1820.4,45.5" fill="#3a4672" opacity=".75"/><polygon points="1797.9,70.2 1801.3,70.2 1801.3,71.7 1797.9,71.7" fill="#7d86a4" opacity=".75"/><polygon points="1796.5,68.2 1799.6,68.2 1799.5,69.8 1796.5,69.8" fill="#44609a" opacity=".75"/><polygon points="1810,53.3 1813.8,53.3 1813.7,54.9 1810,54.9" fill="#2f3b66" opacity=".75"/><polygon points="1817,31.7 1822,31.7 1822,33.3 1817,33.3" fill="#5b6a98" opacity=".75"/><polygon points="1797.2,52 1803.2,51.9 1803.2,53.5 1797.1,53.5" fill="#6e7696" opacity=".75"/><polygon points="1792.4,13.9 1798.6,13.9 1798.6,15.4 1792.3,15.5" fill="#7d86a4" opacity=".75"/><polygon points="1802.5,77.9 1806,77.9 1806,79.5 1802.5,79.5" fill="#44609a" opacity=".75"/><polygon points="1814.8,70.2 1820.2,70.2 1820.2,71.7 1814.7,71.7" fill="#44609a" opacity=".75"/><polygon points="1823.4,50.2 1829.3,50.2 1829.3,51.7 1823.4,51.8" fill="#3a4672" opacity=".75"/><polygon points="1819.1,79.3 1824.8,79.3 1824.8,80.9 1819.1,80.9" fill="#6e7696" opacity=".75"/><polygon points="1812.7,76.1 1817.5,76.1 1817.5,77.7 1812.7,77.7" fill="#2f3b66" opacity=".75"/><polygon points="1792.7,33.8 1795.5,33.8 1795.5,35.4 1792.7,35.4" fill="#44609a" opacity=".75"/><polygon points="1807.1,17.1 1810.2,17 1810.2,18.6 1807.1,18.6" fill="#7d86a4" opacity=".75"/><polygon points="1806.8,68.5 1810.8,68.5 1810.8,70 1806.7,70" fill="#6e7696" opacity=".75"/><polygon points="1817.9,25 1824,24.9 1824,26.5 1817.9,26.5" fill="#5b6a98" opacity=".75"/><polygon points="1817.1,69.3 1821.6,69.3 1821.6,70.8 1817.1,70.8" fill="#6e7696" opacity=".75"/><polygon points="1808.2,40.5 1811.8,40.5 1811.8,42.1 1808.2,42.1" fill="#5b6a98" opacity=".75"/><polygon points="1810,48.6 1814.4,48.6 1814.4,50.2 1809.9,50.2" fill="#6e7696" opacity=".75"/><polygon points="1816.5,13.5 1822,13.5 1822,15 1816.4,15.1" fill="#6e7696" opacity=".75"/><polygon points="1788.1,17 1794.3,16.9 1794.3,18.5 1788,18.5" fill="#2f3b66" opacity=".75"/><polygon points="1819.4,19.2 1823.9,19.2 1823.9,20.7 1819.4,20.8" fill="#7d86a4" opacity=".75"/><polygon points="1792.3,18.4 1797.4,18.4 1797.4,19.9 1792.3,20" fill="#2f3b66" opacity=".75"/><polygon points="1808.8,37.8 1815.1,37.8 1815.1,39.4 1808.8,39.4" fill="#3a4672" opacity=".75"/><polygon points="1802.8,22.1 1808.1,22.1 1808.1,23.6 1802.8,23.7" fill="#6e7696" opacity=".75"/><polygon points="1801,18.9 1803.9,18.9 1803.8,20.4 1801,20.5" fill="#3a4672" opacity=".75"/><polygon points="1803.7,57.5 1807.8,57.5 1807.8,59.1 1803.7,59.1" fill="#7d86a4" opacity=".75"/><polygon points="1817.1,55.6 1820,55.6 1820,57.2 1817,57.2" fill="#2f3b66" opacity=".75"/><polygon points="1810.2,64.9 1814.4,64.9 1814.4,66.5 1810.2,66.5" fill="#5b6a98" opacity=".75"/><polygon points="1813,44.6 1816.5,44.6 1816.5,46.2 1813,46.2" fill="#3a4672" opacity=".75"/><polygon points="1796.3,53.4 1799.9,53.4 1799.9,55 1796.3,55" fill="#2f3b66" opacity=".75"/><polygon points="1791.3,15.5 1795.4,15.5 1795.4,17 1791.3,17" fill="#5b6a98" opacity=".75"/><polygon points="1820.7,67 1823.9,67 1823.9,68.6 1820.7,68.6" fill="#5b6a98" opacity=".75"/><polygon points="1812.5,77.2 1817.7,77.2 1817.7,78.7 1812.5,78.7" fill="#44609a" opacity=".75"/><polygon points="1820.3,67.1 1823.5,67.1 1823.5,68.7 1820.3,68.7" fill="#44609a" opacity=".75"/><polygon points="1798.3,49.5 1803.6,49.5 1803.6,51 1798.3,51.1" fill="#7d86a4" opacity=".75"/><polygon points="1804.5,29.4 1807.4,29.4 1807.4,31 1804.5,31" fill="#2f3b66" opacity=".75"/><polygon points="1789.8,20.3 1793.1,20.3 1793.1,21.8 1789.8,21.9" fill="#2f3b66" opacity=".75"/><polygon points="1811.9,70.1 1816.8,70.1 1816.8,71.7 1811.9,71.7" fill="#5b6a98" opacity=".75"/><polygon points="1817.3,15.8 1821.9,15.8 1821.9,17.4 1817.3,17.4" fill="#7d86a4" opacity=".75"/><polygon points="1814,20.6 1817.1,20.6 1817.1,22.2 1814,22.2" fill="#44609a" opacity=".75"/><polygon points="1807.4,50.7 1810.8,50.7 1810.8,52.2 1807.4,52.3" fill="#7d86a4" opacity=".75"/><polygon points="2030.2,10.8 2049.6,10.6 2037,85.7 2019.8,86.3" fill="#46537c" /><polygon points="2044.7,17.2 2048.2,17.2 2048.2,18.8 2044.7,18.8" fill="#39508c" opacity=".75"/><polygon points="2034.6,56.3 2038.2,56.2 2038.2,57.9 2034.6,57.9" fill="#2f3b66" opacity=".75"/><polygon points="2037.4,55 2041.5,55 2041.5,56.6 2037.5,56.7" fill="#44609a" opacity=".75"/><polygon points="2036.9,17.7 2042.2,17.7 2042.2,19.3 2037,19.3" fill="#2f3b66" opacity=".75"/><polygon points="2025.9,81.8 2030.9,81.8 2030.9,83.5 2025.9,83.5" fill="#44609a" opacity=".75"/><polygon points="2030.6,60.5 2033.9,60.5 2033.9,62.1 2030.6,62.1" fill="#2f3b66" opacity=".75"/><polygon points="2039.1,40.6 2042.2,40.6 2042.2,42.2 2039.1,42.3" fill="#3a4672" opacity=".75"/><polygon points="2035.3,65.9 2040.9,65.9 2040.9,67.5 2035.3,67.5" fill="#44609a" opacity=".75"/><polygon points="2036.4,54.1 2040.1,54.1 2040.1,55.7 2036.5,55.7" fill="#3a4672" opacity=".75"/><polygon points="2036.9,26.1 2042.4,26 2042.5,27.6 2037,27.7" fill="#5b6a98" opacity=".75"/><polygon points="2028.8,73.4 2033.6,73.4 2033.7,75 2028.9,75" fill="#5b6a98" opacity=".75"/><polygon points="2029.6,73.7 2034.1,73.7 2034.1,75.3 2029.6,75.3" fill="#44609a" opacity=".75"/><polygon points="2030.6,31 2034.3,31 2034.3,32.6 2030.7,32.6" fill="#6e7696" opacity=".75"/><polygon points="2024.7,70 2028.6,70 2028.6,71.6 2024.7,71.6" fill="#44609a" opacity=".75"/><polygon points="2038.3,34.9 2042.4,34.9 2042.4,36.5 2038.4,36.5" fill="#3a4672" opacity=".75"/><polygon points="2032.9,62.2 2037.1,62.2 2037.1,63.8 2032.9,63.8" fill="#3a4672" opacity=".75"/><polygon points="2033,72.2 2035.9,72.2 2035.9,73.8 2033,73.8" fill="#44609a" opacity=".75"/><polygon points="2021,83.7 2026.1,83.7 2026.1,85.3 2021,85.3" fill="#2f3b66" opacity=".75"/><polygon points="2021.8,75.6 2027.2,75.6 2027.2,77.2 2021.8,77.2" fill="#3a4672" opacity=".75"/><polygon points="2034.5,58.6 2040.1,58.6 2040.2,60.2 2034.6,60.2" fill="#6e7696" opacity=".75"/><polygon points="2024.7,73.6 2029.8,73.6 2029.8,75.2 2024.8,75.2" fill="#3a4672" opacity=".75"/><polygon points="2038.2,21.6 2043.5,21.6 2043.5,23.2 2038.2,23.2" fill="#39508c" opacity=".75"/><polygon points="2024.4,76.9 2028.2,76.9 2028.2,78.5 2024.5,78.5" fill="#6e7696" opacity=".75"/><polygon points="2036.5,42.3 2039.7,42.3 2039.7,43.9 2036.5,43.9" fill="#6e7696" opacity=".75"/><polygon points="2041.1,30.7 2045,30.7 2045,32.3 2041.1,32.3" fill="#6e7696" opacity=".75"/><polygon points="2033.9,53.7 2036.8,53.7 2036.9,55.3 2033.9,55.3" fill="#6e7696" opacity=".75"/><polygon points="2032.4,35.6 2035.8,35.6 2035.8,37.2 2032.4,37.3" fill="#6e7696" opacity=".75"/><polygon points="2037.8,54 2041.1,54 2041.1,55.6 2037.9,55.6" fill="#2f3b66" opacity=".75"/><polygon points="2040,34.7 2044.8,34.7 2044.8,36.3 2040,36.3" fill="#6e7696" opacity=".75"/><polygon points="2042.5,19.8 2045.7,19.7 2045.7,21.4 2042.6,21.4" fill="#5b6a98" opacity=".75"/><polygon points="2025.6,80 2030.6,80 2030.7,81.6 2025.6,81.6" fill="#5b6a98" opacity=".75"/><polygon points="2037.2,33 2042.7,33 2042.8,34.6 2037.2,34.6" fill="#39508c" opacity=".75"/><polygon points="2023.3,70.9 2028,70.9 2028.1,72.5 2023.3,72.5" fill="#5b6a98" opacity=".75"/><polygon points="2026.3,50.5 2030.6,50.5 2030.6,52.1 2026.3,52.1" fill="#2f3b66" opacity=".75"/><polygon points="2034,16 2038.5,16 2038.5,17.6 2034.1,17.6" fill="#39508c" opacity=".75"/><polygon points="2038,24.8 2041.3,24.8 2041.3,26.4 2038.1,26.4" fill="#39508c" opacity=".75"/><polygon points="2039.9,38.5 2043.1,38.4 2043.2,40 2039.9,40.1" fill="#2f3b66" opacity=".75"/><polygon points="2022.5,79.3 2027.2,79.3 2027.3,80.9 2022.6,80.9" fill="#5b6a98" opacity=".75"/><polygon points="2029.5,58.7 2034.2,58.7 2034.2,60.3 2029.5,60.3" fill="#5b6a98" opacity=".75"/><polygon points="2030,44.8 2034.9,44.8 2034.9,46.4 2030,46.4" fill="#3a4672" opacity=".75"/><polygon points="2031.8,19.5 2036.2,19.4 2036.2,21 2031.8,21.1" fill="#44609a" opacity=".75"/><polygon points="2027.6,65.3 2031.2,65.3 2031.3,66.9 2027.6,66.9" fill="#5b6a98" opacity=".75"/><polygon points="2031.7,15.6 2035.9,15.6 2036,17.2 2031.7,17.2" fill="#2f3b66" opacity=".75"/><polygon points="2039.1,29.5 2044.5,29.5 2044.5,31.1 2039.2,31.1" fill="#5b6a98" opacity=".75"/><polygon points="2026.6,80.2 2030.4,80.2 2030.5,81.8 2026.6,81.9" fill="#6e7696" opacity=".75"/><polygon points="2023,73.1 2027.6,73.1 2027.6,74.7 2023.1,74.7" fill="#5b6a98" opacity=".75"/><polygon points="2031.1,61 2034.3,61 2034.3,62.6 2031.2,62.6" fill="#39508c" opacity=".75"/><polygon points="2031,62.2 2036,62.2 2036,63.8 2031,63.9" fill="#39508c" opacity=".75"/><polygon points="2032.2,70.8 2036.8,70.8 2036.8,72.4 2032.2,72.4" fill="#44609a" opacity=".75"/><polygon points="2032.3,74 2036.7,74 2036.7,75.6 2032.4,75.6" fill="#44609a" opacity=".75"/><polygon points="2049.6,10.6 2130.4,10 2132.5,93.4 2064.3,90.5 2059.9,110.3 2037,85.7" fill="#cac7c3" /><polygon points="2049.6,10.6 2055.6,10.6 2043.6,92.4 2037,85.7" fill="#d9d6d2" opacity=".7"/><g filter="url(#u30)"><ellipse cx="2113.5" cy="73" rx="15.4" ry="16.3" fill="#e4fbff" opacity=".95"/><ellipse cx="2101.2" cy="85.2" rx="23" ry="9.6" fill="#daf0f4" opacity=".8"/></g><polygon points="2072.1,17.5 2110.2,17.2 2106.1,40.4 2068.5,38.1" fill="#b9c4c2" /><polygon points="2072.1,17.5 2084.4,17.4 2081,38.9 2068.5,38.1" fill="#cdd7d5" /><polyline points="2085.2,40.5 2080,68.5" fill="none" stroke="#aeb0b0" stroke-width="1.2" /><polyline points="2067.9,68.6 2091,68.5 2091.4,89.9 2068.3,89.9 2067.9,68.6" fill="none" stroke="#a4afaf" stroke-width="1.5" /><polyline points="2079.4,68.5 2079.8,89.9" fill="none" stroke="#a4afaf" stroke-width="1.3" /><polyline points="2068.1,78.6 2091.2,78.6" fill="none" stroke="#a4afaf" stroke-width="1.3" /><polygon points="1935.3,13.5 1974.4,13.2 1974.7,49.1 1935.4,49.2" fill="#bdbcbc" opacity=".5"/><polygon points="1924.4,37.3 1929.4,37.3 1929.5,54.7 1924.5,54.8" fill="#15151a" /><polygon points="1930.2,23.4 1934.9,23.4 1935.9,47.2 1930.8,52.2 1929.6,41.3" fill="#8f70c2" /><ellipse cx="1899.8" cy="36.5" rx="3.3" ry="7.9" fill="#2a2ed2" transform="rotate(8 1899.8 36.5)" /><polyline points="1897.8,44.4 1897,52.4" fill="none" stroke="#7a9a30" stroke-width="1.2" /><polyline points="1847.8,31.8 1846.8,51.6" fill="none" stroke="#d09060" stroke-width="1" opacity=".7"/><polygon points="1916.3,11.6 1920.9,18.5 1928.8,18.5 1933.9,11.5 1934.9,27.4 1929.8,36.3 1921.4,36.4 1915.4,27.5" fill="#5b90d8" /><polygon points="1916.3,11.6 1920.9,18.5 1928.8,18.5 1933.9,11.5 1934.2,20.4 1915.8,20.5" fill="#2e58ac" /><circle cx="1920.7" cy="25" r="1.5" fill="#e9d9a0" /><circle cx="1929" cy="24.9" r="1.5" fill="#e9d9a0" /><polygon points="1920.5,36.4 1929.8,36.3 1929.8,39.3 1920.5,39.3" fill="#e8e8e8" /><polygon points="1949.3,27.3 1954.9,25.2 1956.5,51.2 1949.5,53.2 1947.1,43.2" fill="#b57d2f" /><polygon points="1957.2,25.2 1962.3,19.2 1965.4,53.1 1956.9,52.1" fill="#2b3758" /><polygon points="1966.1,23.2 1972.6,21.1 1974.7,45.1 1968.2,47.1" fill="#9d9ca2" /><polygon points="1973.6,23.1 1975.7,23.1 1975.9,49.1 1973.8,49.1" fill="#4a4a55" /><polyline points="1947.4,21.3 1953,16.3 1959.6,22.2 1965.1,16.2 1972.6,21.1" fill="none" stroke="#44464e" stroke-width="1.2" /><polygon points="1924.3,62.2 1939.2,62.2 1939.2,64.6 1924.3,64.6" fill="#9fb6d8" opacity=".8"/><polygon points="1918.7,67.3 1943,67.2 1943,73.2 1918.7,73.2" fill="#3a64a6" /><polygon points="1941.8,57.9 1971.1,57.8 1971.2,62.6 1941.8,62.7" fill="#2c4f8a" /><polygon points="1931.8,68.8 1971.2,68.8 1971.3,73.6 1931.8,73.6" fill="#203c72" /><polygon points="1918.8,76.8 1973.1,76.7 1973.1,81.7 1918.8,81.8" fill="#15294f" /><polyline points="1944.4,59.2 1944.5,80.2" fill="none" stroke="#8a95a8" stroke-width="1.2" /><polyline points="1937.4,73.2 1936,81.3" fill="none" stroke="#aab3c2" stroke-width="1.1" /><polygon points="1711.6,138.6 1795.9,84.5 1828.3,82.9 2019.8,85.9 2037,85.7 2059.9,110.3 2176.5,259.3 2178.1,313 1708.3,302.2" fill="#2a4570" /><g clip-path="url(#u31)"><polygon points="1798.2,87.3 1853,87.3 1853,89.5 1798.1,89.5" fill="#3d5f8d" opacity=".6"/><polygon points="1779.9,93.2 1857.6,93.3 1857.6,95.9 1779.9,95.8" fill="#274171" opacity=".6"/><polygon points="1800.8,98.7 1857.6,98.8 1857.6,101.2 1800.7,101.1" fill="#3b5c8c" opacity=".6"/><polygon points="1766.2,104.1 1852.9,104.2 1852.9,107.2 1766.2,107.1" fill="#243d69" opacity=".6"/><polygon points="1770.7,110 1834.5,110.2 1834.5,112.6 1770.6,112.4" fill="#395986" opacity=".6"/><polygon points="1712,116.8 1824.4,117.2 1824.3,120.2 1711.9,119.8" fill="#253e6a" opacity=".6"/><polygon points="1776.8,123 1822.5,123.2 1822.5,125.4 1776.8,125.2" fill="#426797" opacity=".6"/><polygon points="1711.7,128.7 1820.6,129.2 1820.6,132.2 1711.7,131.7" fill="#233963" opacity=".6"/><polygon points="1765.8,134.9 1820.6,135.2 1820.5,137.6 1765.7,137.3" fill="#365684" opacity=".6"/><polygon points="1711.5,140.6 1820.5,141.2 1820.5,144.2 1711.5,143.6" fill="#273d66" opacity=".6"/><polygon points="1776.5,147 1813.1,147.2 1813.1,149.6 1776.5,149.4" fill="#365481" opacity=".6"/><polygon points="1711.3,152.5 1811.2,153.2 1811.2,156.4 1711.2,155.7" fill="#2d436a" opacity=".6"/><polygon points="1711.1,160.5 1809.3,161.3 1809.3,164.3 1711.1,163.5" fill="#375684" opacity=".6"/><polygon points="1711,167.5 1801.9,168.3 1801.9,171.7 1710.9,170.9" fill="#2d456e" opacity=".6"/><polygon points="1710.8,175.5 1797.2,176.3 1797.2,179.3 1710.8,178.5" fill="#395885" opacity=".6"/><polygon points="1710.7,183.5 1790.7,184.3 1790.7,188.4 1710.6,187.5" fill="#2f4a77" opacity=".6"/><polygon points="1710.5,192.5 1786,193.4 1786,197.4 1710.4,196.5" fill="#3c5c8a" opacity=".6"/><polygon points="1710.3,201.6 1778.6,202.4 1778.5,206.5 1710.2,205.6" fill="#375684" opacity=".6"/><polygon points="1710.1,210.6 1773.9,211.5 1773.8,216.5 1710,215.7" fill="#3a5986" opacity=".6"/><polygon points="1709.9,220.7 1766.4,221.5 1766.3,227.6 1709.8,226.8" fill="#3d5c89" opacity=".6"/><polygon points="1709.7,231.8 1758.9,232.6 1758.8,239.7 1709.6,238.9" fill="#3c5c8a" opacity=".6"/><polygon points="1838.3,96.7 1853,96.8 1852.9,103.7 1838.2,103.7" fill="#5a98e0" opacity=".85"/><polygon points="1829.9,109.2 1841,109.2 1840.9,114.2 1829.9,114.2" fill="#4f8ad4" opacity=".8"/><polygon points="1813.3,125.6 1822.5,125.7 1822.4,128.7 1813.3,128.6" fill="#4a86d2" opacity=".8"/><polygon points="1711.6,138.6 1795.9,84.5 1828.3,82.9 1820.9,89.3 1793.5,101.2 1711,165.5" fill="#3a66a2" opacity=".22"/></g><polygon points="1984.9,83.8 2037,85.7 2059.9,110.3 2081.1,142.7 2055.9,142.6" fill="#2f66ae" /><g clip-path="url(#u32)"><polygon points="1988.3,88.3 2045.4,88.3 2045.4,90.3 1988.3,90.3" fill="#3c7cc8" opacity=".8"/><polygon points="1993.1,93.4 2052.2,93.4 2052.2,95.6 1993.1,95.6" fill="#2a5a9e" opacity=".8"/><polygon points="1997.9,98.4 2055.2,98.5 2055.2,100.7 1997.9,100.7" fill="#3f80cc" opacity=".8"/><polygon points="2002.7,103.5 2060.1,103.6 2060.1,105.9 2002.7,105.7" fill="#2b5fa6" opacity=".8"/><polygon points="2007.5,108.6 2065,108.7 2065,111.2 2007.5,111" fill="#3a78c4" opacity=".8"/><polygon points="2015.2,113.7 2072.8,113.9 2072.8,116.3 2015.2,116.2" fill="#2d62aa" opacity=".8"/><polygon points="2022,119.9 2079.7,120 2079.7,123.1 2022,122.9" fill="#3a76c0" opacity=".8"/><polygon points="2031.6,127 2089.5,127.3 2089.5,130.4 2031.7,130.1" fill="#2b5a9c" opacity=".8"/></g><polygon points="2064.9,93 2074.6,89.9 2132.4,90.6 2135.6,218.4 2079.1,142.7 2059.9,111.8" fill="#1e3462" /><polygon points="2066.6,93.9 2075.2,91.4 2132.5,92.4 2132.8,107.9 2074.6,109.8 2064.9,105.7" fill="#182b57" /><polygon points="2063.1,109.7 2074.7,111.8 2132.9,109.9 2133.2,122.3 2084.7,130.4 2067.1,120" fill="#27447a" opacity=".9"/><polygon points="2077.9,127.2 2133.2,123.3 2134.7,182.6 2094.9,153.1" fill="#29477f" opacity=".9"/><polygon points="2084.9,142.7 2134.8,186.8 2135.6,218.4" fill="#223d74" /><polygon points="2075.1,137.5 2090.6,135.5 2104.9,163.6 2135.2,202.6 2135.5,214.1" fill="#3762a6" opacity=".55"/><polygon points="1864.6,81.1 1986.8,83.5 2205.1,252.9 2218.3,321.6 1729,306.7" fill="#39d722" /><polygon points="1864.6,81.1 1986.8,83.5 2024.1,113.2 1850.5,105.2" fill="#23981b" /><polygon points="1875,81.9 1976.2,84 1983.3,88.9 1872.7,86.7" fill="#35c326" opacity=".9"/><polygon points="1899.5,81.8 1934.4,82.7 1939.1,92.9 1898.5,91" fill="#3fd02c" opacity=".8"/><polygon points="1952.8,83.1 1980.8,84 1991.2,92.8 1958.4,91.9" fill="#3fd02c" opacity=".7"/><g clip-path="url(#u33)"><g filter="url(#u34)"><polyline points="1815.1,172.8 1882.9,184.4 1955.7,200 2026.3,219.3 2132.9,256.7" fill="none" stroke="#1a7d14" stroke-width="7.2" opacity="0.48"/><polyline points="1791.3,208.1 1871.8,225.3 1960.3,244.2 2063.7,273.2 2162.5,308.1" fill="none" stroke="#1a7d14" stroke-width="6.7" opacity="0.3"/><polyline points="1856.1,134.3 1902.5,138 1940,139.1 1997.1,141 2043.8,144.8" fill="none" stroke="#1a7d14" stroke-width="5.8" opacity="0.43"/><polyline points="1843.4,150.8 1894.5,153.7 1941.6,155 2004.3,160.6 2060.8,168.4" fill="none" stroke="#1a7d14" stroke-width="6.2" opacity="0.43"/><polyline points="1943.7,176.2 2012.2,185.9 2093.7,202.4" fill="none" stroke="#1a7d14" stroke-width="6.7" opacity="0.43"/><polyline points="1881.7,126.4 1880.9,145.5 1878.8,160.7" fill="none" stroke="#1a7d14" stroke-width="7.7" opacity="0.48"/><polyline points="1912.2,126.5 1918.1,181.6 1931.4,312.9" fill="none" stroke="#1a7d14" stroke-width="11.5" opacity="0.52"/><polyline points="2029.1,128.9 2045.5,143.3 2070.2,165.3 2098.5,194.4 2128.8,232 2180.6,291.1" fill="none" stroke="#1a7d14" stroke-width="9.6" opacity="0.48"/><polyline points="1962.4,128.7 1995.4,166.8 2030.7,215 2101.1,318" fill="none" stroke="#1a7d14" stroke-width="6.7" opacity="0.19"/></g></g><polygon points="1863.5,81.1 1865.8,81.1 1731.1,306.8 1726,306.6" fill="#f1efee" /><polygon points="1864.6,80.7 1986.8,83.2 1987.9,84.5 1864.2,82.1" fill="#e9f3e6" /><polygon points="1985.9,83.2 1988.2,83.3 2204.3,248.7 2205.4,254.2" fill="#f6f6f6" /><polygon points="2053.1,134.7 2205.4,254.2 2207.3,264.1 2058.3,144.4" fill="#6d6f72" /><polygon points="1923.2,81.4 1924.3,81.4 2007.5,315.2 2002.9,315" fill="#f0f5ee" /><polygon points="1814.8,107.4 2080.2,113.3 2076.6,134.3 1816.4,124.4" fill="#10301a" opacity=".5"/><polygon points="1814.8,107.4 1846.8,108.1 1834.7,125 1816.4,124.4" fill="#2a4a90" opacity=".45"/><polygon points="2019.8,112 2080.2,113.3 2076.6,134.3 2044.7,133" fill="#3a70c8" opacity=".45"/><polyline points="1815.3,111.7 2078.6,118.6" fill="none" stroke="#0a1a10" stroke-width="0.9" opacity=".5"/><polyline points="1815.4,115.9 2078.5,123.8" fill="none" stroke="#0a1a10" stroke-width="0.9" opacity=".5"/><polyline points="1815.6,120.2 2078.4,129.1" fill="none" stroke="#0a1a10" stroke-width="0.9" opacity=".5"/><polyline points="1816.8,107.6 1817.1,124.7" fill="none" stroke="#0a1a10" stroke-width="0.8" opacity=".38"/><polyline points="1820.8,107.7 1821.1,124.9" fill="none" stroke="#0a1a10" stroke-width="0.8" opacity=".38"/><polyline points="1824.8,107.8 1825.1,125" fill="none" stroke="#0a1a10" stroke-width="0.8" opacity=".38"/><polyline points="1828.8,107.9 1829.1,125.2" fill="none" stroke="#0a1a10" stroke-width="0.8" opacity=".38"/><polyline points="1832.8,108 1833.2,125.4" fill="none" stroke="#0a1a10" stroke-width="0.8" opacity=".38"/><polyline points="1836.9,108.1 1837.2,125.5" fill="none" stroke="#0a1a10" stroke-width="0.8" opacity=".38"/><polyline points="1841,108.1 1841.3,125.7" fill="none" stroke="#0a1a10" stroke-width="0.8" opacity=".38"/><polyline points="1845.1,108.2 1845.4,125.8" fill="none" stroke="#0a1a10" stroke-width="0.8" opacity=".38"/><polyline points="1849.2,108.3 1849.5,126" fill="none" stroke="#0a1a10" stroke-width="0.8" opacity=".38"/><polyline points="1853.3,108.4 1853.6,126.1" fill="none" stroke="#0a1a10" stroke-width="0.8" opacity=".38"/><polyline points="1857.5,108.5 1857.7,126.3" fill="none" stroke="#0a1a10" stroke-width="0.8" opacity=".38"/><polyline points="1861.7,108.6 1861.9,126.4" fill="none" stroke="#0a1a10" stroke-width="0.8" opacity=".38"/><polyline points="1865.8,108.7 1866,126.6" fill="none" stroke="#0a1a10" stroke-width="0.8" opacity=".38"/><polyline points="1870,108.8 1870.2,126.8" fill="none" stroke="#0a1a10" stroke-width="0.8" opacity=".38"/><polyline points="1874.3,108.9 1874.4,126.9" fill="none" stroke="#0a1a10" stroke-width="0.8" opacity=".38"/><polyline points="1878.5,109 1878.7,127.1" fill="none" stroke="#0a1a10" stroke-width="0.8" opacity=".38"/><polyline points="1882.8,109.1 1882.9,127.2" fill="none" stroke="#0a1a10" stroke-width="0.8" opacity=".38"/><polyline points="1887.1,109.2 1887.2,127.4" fill="none" stroke="#0a1a10" stroke-width="0.8" opacity=".38"/><polyline points="1891.4,109.3 1891.5,127.6" fill="none" stroke="#0a1a10" stroke-width="0.8" opacity=".38"/><polyline points="1895.7,109.4 1895.8,127.7" fill="none" stroke="#0a1a10" stroke-width="0.8" opacity=".38"/><polyline points="1900,109.5 1900.1,127.9" fill="none" stroke="#0a1a10" stroke-width="0.8" opacity=".38"/><polyline points="1904.4,109.6 1904.5,128.1" fill="none" stroke="#0a1a10" stroke-width="0.8" opacity=".38"/><polyline points="1908.8,109.7 1908.8,128.2" fill="none" stroke="#0a1a10" stroke-width="0.8" opacity=".38"/><polyline points="1913.2,109.8 1913.2,128.4" fill="none" stroke="#0a1a10" stroke-width="0.8" opacity=".38"/><polyline points="1917.6,109.9 1917.6,128.6" fill="none" stroke="#0a1a10" stroke-width="0.8" opacity=".38"/><polyline points="1922.1,110 1922.1,128.7" fill="none" stroke="#0a1a10" stroke-width="0.8" opacity=".38"/><polyline points="1926.5,110.1 1926.5,128.9" fill="none" stroke="#0a1a10" stroke-width="0.8" opacity=".38"/><polyline points="1931,110.2 1931,129.1" fill="none" stroke="#0a1a10" stroke-width="0.8" opacity=".38"/><polyline points="1935.5,110.3 1935.5,129.2" fill="none" stroke="#0a1a10" stroke-width="0.8" opacity=".38"/><polyline points="1940,110.4 1940,129.4" fill="none" stroke="#0a1a10" stroke-width="0.8" opacity=".38"/><polyline points="1944.6,110.5 1944.5,129.6" fill="none" stroke="#0a1a10" stroke-width="0.8" opacity=".38"/><polyline points="1949.2,110.6 1949.1,129.8" fill="none" stroke="#0a1a10" stroke-width="0.8" opacity=".38"/><polyline points="1953.8,110.7 1953.6,129.9" fill="none" stroke="#0a1a10" stroke-width="0.8" opacity=".38"/><polyline points="1958.4,110.8 1958.2,130.1" fill="none" stroke="#0a1a10" stroke-width="0.8" opacity=".38"/><polyline points="1963,110.9 1962.8,130.3" fill="none" stroke="#0a1a10" stroke-width="0.8" opacity=".38"/><polyline points="1967.7,111 1967.5,130.5" fill="none" stroke="#0a1a10" stroke-width="0.8" opacity=".38"/><polyline points="1972.3,111.1 1972.1,130.6" fill="none" stroke="#0a1a10" stroke-width="0.8" opacity=".38"/><polyline points="1977,111.2 1976.8,130.8" fill="none" stroke="#0a1a10" stroke-width="0.8" opacity=".38"/><polyline points="1981.8,111.3 1981.5,131" fill="none" stroke="#0a1a10" stroke-width="0.8" opacity=".38"/><polyline points="1986.5,111.4 1986.2,131.2" fill="none" stroke="#0a1a10" stroke-width="0.8" opacity=".38"/><polyline points="1991.3,111.5 1991,131.4" fill="none" stroke="#0a1a10" stroke-width="0.8" opacity=".38"/><polyline points="1996.1,111.6 1995.8,131.5" fill="none" stroke="#0a1a10" stroke-width="0.8" opacity=".38"/><polyline points="2000.9,111.7 2000.6,131.7" fill="none" stroke="#0a1a10" stroke-width="0.8" opacity=".38"/><polyline points="2005.7,111.8 2005.4,131.9" fill="none" stroke="#0a1a10" stroke-width="0.8" opacity=".38"/><polyline points="2010.6,111.9 2010.2,132.1" fill="none" stroke="#0a1a10" stroke-width="0.8" opacity=".38"/><polyline points="2015.5,112.1 2015.1,132.3" fill="none" stroke="#0a1a10" stroke-width="0.8" opacity=".38"/><polyline points="2020.4,112.2 2020,132.5" fill="none" stroke="#0a1a10" stroke-width="0.8" opacity=".38"/><polyline points="2025.3,112.3 2024.9,132.6" fill="none" stroke="#0a1a10" stroke-width="0.8" opacity=".38"/><polyline points="2030.2,112.4 2029.8,132.8" fill="none" stroke="#0a1a10" stroke-width="0.8" opacity=".38"/><polyline points="2035.2,112.5 2034.8,133" fill="none" stroke="#0a1a10" stroke-width="0.8" opacity=".38"/><polyline points="2040.2,112.6 2039.7,133.2" fill="none" stroke="#0a1a10" stroke-width="0.8" opacity=".38"/><polyline points="2045.3,112.7 2044.8,133.4" fill="none" stroke="#0a1a10" stroke-width="0.8" opacity=".38"/><polyline points="2050.3,112.8 2049.8,133.6" fill="none" stroke="#0a1a10" stroke-width="0.8" opacity=".38"/><polyline points="2055.4,112.9 2054.8,133.8" fill="none" stroke="#0a1a10" stroke-width="0.8" opacity=".38"/><polyline points="2060.5,113.1 2059.9,134" fill="none" stroke="#0a1a10" stroke-width="0.8" opacity=".38"/><polyline points="2065.6,113.2 2065,134.2" fill="none" stroke="#0a1a10" stroke-width="0.8" opacity=".38"/><polyline points="2070.8,113.3 2070.2,134.4" fill="none" stroke="#0a1a10" stroke-width="0.8" opacity=".38"/><polyline points="2076,113.4 2075.3,134.6" fill="none" stroke="#0a1a10" stroke-width="0.8" opacity=".38"/><polyline points="1814.8,107.4 2080.2,113.3" fill="none" stroke="#a9acaa" stroke-width="2.1" /><polyline points="1815.5,107.4 1817.1,124.9" fill="none" stroke="#5a5c5e" stroke-width="2.9" /><polyline points="2079.8,113.3 2076.2,135.1" fill="none" stroke="#77797b" stroke-width="3.1" /><polygon points="1815.4,123.7 1846.3,122.4 1846.5,124.7 1831.4,129.5 1825.4,128.3" fill="#2d2d2f" /><polygon points="2081.5,114.8 2076.8,135.8 2048.1,133.3 2040.7,130.2 2047.8,129.9 2074.7,132.2" fill="#3b3d40" /><polygon points="1745,10 1781.7,10 1787.7,78.4 1745,85.2" fill="#2a1416" /><polygon points="1745,30.5 1775,29.7 1777.5,32 1779,50 1777,52.5 1745,53.5" fill="#5c3d41" /><polygon points="1753.4,57.5 1779,56.7 1781.1,59 1782.5,76 1780.5,78.4 1753.4,79.5" fill="#4a2e32" /><polyline points="1771,38 1774.5,40.9 1771,43.8" fill="none" stroke="#efe9e9" stroke-width="1.3" /><polygon points="1759.4,64 1773.9,64 1773.9,66.4 1759.4,66.4" fill="#e4dcdc" /><polygon points="1751,35 1754,33 1756.5,37 1757.5,46 1754,49 1751,49" fill="#4f8fd8" /><circle cx="1850" cy="187.8" r="8" fill="#dcdcdc" /><circle cx="1850" cy="187.4" r="6.6" fill="#ffffff" /><circle cx="1850.3" cy="188.6" r="4.6" fill="#e9e9e9" /><circle cx="1850.3" cy="188.2" r="3.9" fill="#ffffff" /><polygon points="1850.6,184 1851.2,185.7 1853.1,185.8 1851.6,186.9 1852.1,188.7 1850.6,187.7 1849.1,188.7 1849.6,186.9 1848.1,185.8 1850,185.7" fill="#222" /><ellipse cx="1801.5" cy="276.5" rx="47.5" ry="31.5" fill="#5b3a2c" /><ellipse cx="1801.5" cy="276.5" rx="45.5" ry="29.5" fill="none" stroke="#e8e2da" stroke-width="1.6" stroke-dasharray="2.2 1.6" opacity=".85"/><ellipse cx="1800.5" cy="279.5" rx="43.5" ry="28" fill="#1f1f23" /></g></g><g><polygon points="369.6,510.68 223.16,562.48 218.43,414.16 369.6,372.27" fill="#f2f2f2" stroke="#e9e9e9" stroke-width="1.6" stroke-linejoin="round"/><polygon points="369.6,510.68 516.04,562.48 520.77,414.16 369.6,372.27" fill="#f9f9f9" stroke="#efefef" stroke-width="1.6" stroke-linejoin="round"/><polygon points="369.6,510.68 223.16,562.48 369.6,623.43 516.04,562.48" fill="#f5f5f5" stroke="#ececec" stroke-width="1.6" stroke-linejoin="round"/><g fill="none" stroke="#b0b0b0" stroke-width="1.25" stroke-linejoin="round"><polyline points="513.34,563.6 366.89,511.63 366.81,373.05"/><polyline points="225.86,563.6 372.31,511.63 372.39,373.05"/><polyline points="516.13,559.6 369.6,507.99 223.07,559.6"/><polyline points="480.3,577.35 333.68,523.38 332.59,382.53"/><polyline points="258.9,577.35 405.52,523.38 406.61,382.53"/><polyline points="517.24,524.82 369.6,475.47 221.96,524.82"/><polyline points="445.92,591.66 299.23,535.57 297.05,392.38"/><polyline points="293.28,591.66 439.97,535.57 442.15,392.38"/><polyline points="518.37,489.5 369.6,442.49 220.83,489.5"/><polyline points="410.11,606.57 263.47,548.22 260.11,402.61"/><polyline points="329.09,606.57 475.73,548.22 479.09,402.61"/><polyline points="519.51,453.64 369.6,409.05 219.69,453.64"/><polyline points="372.78,622.1 226.32,561.36 221.7,413.26"/><polyline points="366.42,622.1 512.88,561.36 517.5,413.26"/><polyline points="520.68,417.22 369.6,375.12 218.52,417.22"/></g><g fill="none" stroke="#000" stroke-width="1.25" stroke-linecap="butt" stroke-linejoin="miter"><polyline points="218.43,414.16 223.16,562.48 369.6,623.43 516.04,562.48"/><polyline points="511.67,563.01 517.15,564.95"/><polyline points="227.53,563.01 222.05,564.95"/><polyline points="224.49,560.19 219.84,558.27"/><polyline points="478.63,576.74 484.12,578.76"/><polyline points="260.57,576.74 255.08,578.76"/><polyline points="223.39,525.38 218.71,523.54"/><polyline points="444.24,591.02 449.74,593.13"/><polyline points="294.96,591.02 289.46,593.13"/><polyline points="222.27,490.04 217.56,488.28"/><polyline points="408.43,605.9 413.94,608.09"/><polyline points="330.77,605.9 325.26,608.09"/><polyline points="221.14,454.15 216.39,452.48"/><polyline points="371.1,621.4 376.61,623.69"/><polyline points="368.1,621.4 362.59,623.69"/><polyline points="219.99,417.71 215.21,416.13"/></g><g fill="#f00" stroke="#f00" stroke-width="1.35"><circle cx="381.1" cy="427.5" r="3.95" fill-opacity="0.56" stroke-opacity="0.95"/><circle cx="378.4" cy="441.5" r="3.95" fill-opacity="0.56" stroke-opacity="0.95"/><circle cx="376.6" cy="444.9" r="3.95" fill-opacity="0.56" stroke-opacity="0.95"/><circle cx="391" cy="448" r="3.95" fill-opacity="0.46" stroke-opacity="0.79"/><circle cx="397.4" cy="467.8" r="3.95" fill-opacity="0.43" stroke-opacity="0.73"/><circle cx="411.7" cy="480.5" r="3.95" fill-opacity="0.5" stroke-opacity="0.84"/><circle cx="371.9" cy="450.9" r="3.95" fill-opacity="0.56" stroke-opacity="0.95"/><circle cx="364.8" cy="457.8" r="3.95" fill-opacity="0.56" stroke-opacity="0.95"/><circle cx="373.2" cy="461.2" r="3.95" fill-opacity="0.5" stroke-opacity="0.84"/><circle cx="371.2" cy="470" r="3.95" fill-opacity="0.5" stroke-opacity="0.84"/><circle cx="365.6" cy="482.1" r="3.95" fill-opacity="0.59" stroke-opacity="1"/><circle cx="369.6" cy="489.8" r="3.95" fill-opacity="0.5" stroke-opacity="0.84"/><circle cx="376.6" cy="485.6" r="3.95" fill-opacity="0.43" stroke-opacity="0.73"/><circle cx="362.3" cy="492.5" r="3.95" fill-opacity="0.53" stroke-opacity="0.89"/><circle cx="382" cy="496.2" r="3.95" fill-opacity="0.93" stroke-opacity="1"/><circle cx="354.5" cy="527.6" r="3.95" fill-opacity="0.46" stroke-opacity="0.79"/><circle cx="348.4" cy="559" r="3.95" fill-opacity="0.46" stroke-opacity="0.79"/><circle cx="356.1" cy="571.4" r="3.95" fill-opacity="0.5" stroke-opacity="0.84"/><circle cx="378.6" cy="516.8" r="3.95" fill-opacity="0.28" stroke-opacity="0.47"/><circle cx="381.3" cy="545.1" r="3.95" fill-opacity="0.28" stroke-opacity="0.47"/><circle cx="393.7" cy="557" r="3.95" fill-opacity="0.31" stroke-opacity="0.53"/></g><g fill="none" stroke="#00f" stroke-width="4.2" stroke-linejoin="round" stroke-linecap="butt"><polyline points="381.1,427.5 377.7,442.5 374.7,451.1 372.1,458.8 370.2,466.5 369.3,475.1 369.5,483.7 370.4,489"/><polyline points="374.7,451.1 391,448.1 397.4,467.8 411.7,480.5"/><polyline points="374.7,451.1 364.8,457.7 365.6,482.1 382,496.2"/><polyline points="376.5,486.5 370.4,489.5 362.3,492.5 354.5,527.6 348.4,559 356.1,571.4"/><polyline points="370.4,489.5 376.5,486.5 378.6,516.8 381.3,545.1 393.7,557"/></g></g><g><polygon points="893.05,510.68 746.61,562.48 741.88,414.16 893.05,372.27" fill="#f2f2f2" stroke="#e9e9e9" stroke-width="1.6" stroke-linejoin="round"/><polygon points="893.05,510.68 1039.49,562.48 1044.22,414.16 893.05,372.27" fill="#f9f9f9" stroke="#efefef" stroke-width="1.6" stroke-linejoin="round"/><polygon points="893.05,510.68 746.61,562.48 893.05,623.43 1039.49,562.48" fill="#f5f5f5" stroke="#ececec" stroke-width="1.6" stroke-linejoin="round"/><g fill="none" stroke="#b0b0b0" stroke-width="1.25" stroke-linejoin="round"><polyline points="1036.79,563.6 890.34,511.63 890.26,373.05"/><polyline points="749.31,563.6 895.76,511.63 895.84,373.05"/><polyline points="1039.58,559.6 893.05,507.99 746.52,559.6"/><polyline points="1003.75,577.35 857.13,523.38 856.04,382.53"/><polyline points="782.35,577.35 928.97,523.38 930.06,382.53"/><polyline points="1040.69,524.82 893.05,475.47 745.41,524.82"/><polyline points="969.37,591.66 822.68,535.57 820.5,392.38"/><polyline points="816.73,591.66 963.42,535.57 965.6,392.38"/><polyline points="1041.82,489.5 893.05,442.49 744.28,489.5"/><polyline points="933.56,606.57 786.92,548.22 783.56,402.61"/><polyline points="852.54,606.57 999.18,548.22 1002.54,402.61"/><polyline points="1042.96,453.64 893.05,409.05 743.14,453.64"/><polyline points="896.23,622.1 749.77,561.36 745.15,413.26"/><polyline points="889.87,622.1 1036.33,561.36 1040.95,413.26"/><polyline points="1044.13,417.22 893.05,375.12 741.97,417.22"/></g><g fill="none" stroke="#000" stroke-width="1.25" stroke-linecap="butt" stroke-linejoin="miter"><polyline points="741.88,414.16 746.61,562.48 893.05,623.43 1039.49,562.48"/><polyline points="1035.12,563.01 1040.6,564.95"/><polyline points="750.98,563.01 745.5,564.95"/><polyline points="747.94,560.19 743.29,558.27"/><polyline points="1002.08,576.74 1007.57,578.76"/><polyline points="784.02,576.74 778.53,578.76"/><polyline points="746.84,525.38 742.16,523.54"/><polyline points="967.69,591.02 973.19,593.13"/><polyline points="818.41,591.02 812.91,593.13"/><polyline points="745.72,490.04 741.01,488.28"/><polyline points="931.88,605.9 937.39,608.09"/><polyline points="854.22,605.9 848.71,608.09"/><polyline points="744.59,454.15 739.84,452.48"/><polyline points="894.55,621.4 900.06,623.69"/><polyline points="891.55,621.4 886.04,623.69"/><polyline points="743.44,417.71 738.66,416.13"/></g><g fill="#f00" stroke="#f00" stroke-width="1.35"><circle cx="959.2" cy="431" r="3.95" fill-opacity="0.53" stroke-opacity="0.89"/><circle cx="945.3" cy="444.4" r="3.95" fill-opacity="0.53" stroke-opacity="0.89"/><circle cx="938" cy="445.9" r="3.95" fill-opacity="0.53" stroke-opacity="0.89"/><circle cx="931.9" cy="452.1" r="3.95" fill-opacity="0.53" stroke-opacity="0.89"/><circle cx="919.5" cy="460.4" r="3.95" fill-opacity="0.5" stroke-opacity="0.84"/><circle cx="910.7" cy="469.1" r="3.95" fill-opacity="0.5" stroke-opacity="0.84"/><circle cx="897.3" cy="483.6" r="3.95" fill-opacity="0.53" stroke-opacity="0.89"/><circle cx="893.5" cy="489" r="3.95" fill-opacity="0.5" stroke-opacity="0.84"/><circle cx="890.2" cy="494.4" r="3.95" fill-opacity="0.5" stroke-opacity="0.84"/><circle cx="931" cy="462.9" r="3.95" fill-opacity="0.56" stroke-opacity="0.95"/><circle cx="938.5" cy="459.3" r="3.95" fill-opacity="0.25" stroke-opacity="0.42"/><circle cx="943.5" cy="481" r="3.95" fill-opacity="0.25" stroke-opacity="0.42"/><circle cx="951.4" cy="481.5" r="3.95" fill-opacity="0.53" stroke-opacity="0.89"/><circle cx="975.7" cy="490.8" r="3.95" fill-opacity="0.93" stroke-opacity="1"/><circle cx="889.9" cy="536.5" r="3.95" fill-opacity="0.56" stroke-opacity="0.95"/><circle cx="884.7" cy="576.2" r="3.95" fill-opacity="0.56" stroke-opacity="0.95"/><circle cx="893" cy="590.2" r="3.95" fill-opacity="0.59" stroke-opacity="1"/><circle cx="908.5" cy="519" r="3.95" fill-opacity="0.31" stroke-opacity="0.53"/><circle cx="924.4" cy="552" r="3.95" fill-opacity="0.31" stroke-opacity="0.53"/><circle cx="943.5" cy="557.2" r="3.95" fill-opacity="0.31" stroke-opacity="0.53"/></g><g fill="none" stroke="#00f" stroke-width="4.2" stroke-linejoin="round" stroke-linecap="butt"><polyline points="959.2,431 945.3,444.4 938,445.9 931.9,452.1 919.5,460.4 910.7,469.1 897.3,483.6 890.2,494.4 889.9,536.5 884.7,576.2 893,590.2"/><polyline points="931.9,452.1 931.3,462.9 943.7,481"/><polyline points="938,445.9 937,458.3 942.2,471.2 951.4,481.5 975.7,490.8"/><polyline points="897.3,483.6 908.5,519 924.4,552 943.5,557.2"/></g></g><g><polygon points="1416.5,510.68 1270.06,562.48 1265.33,414.16 1416.5,372.27" fill="#f2f2f2" stroke="#e9e9e9" stroke-width="1.6" stroke-linejoin="round"/><polygon points="1416.5,510.68 1562.94,562.48 1567.67,414.16 1416.5,372.27" fill="#f9f9f9" stroke="#efefef" stroke-width="1.6" stroke-linejoin="round"/><polygon points="1416.5,510.68 1270.06,562.48 1416.5,623.43 1562.94,562.48" fill="#f5f5f5" stroke="#ececec" stroke-width="1.6" stroke-linejoin="round"/><g fill="none" stroke="#b0b0b0" stroke-width="1.25" stroke-linejoin="round"><polyline points="1560.24,563.6 1413.79,511.63 1413.71,373.05"/><polyline points="1272.76,563.6 1419.21,511.63 1419.29,373.05"/><polyline points="1563.03,559.6 1416.5,507.99 1269.97,559.6"/><polyline points="1527.2,577.35 1380.58,523.38 1379.49,382.53"/><polyline points="1305.8,577.35 1452.42,523.38 1453.51,382.53"/><polyline points="1564.14,524.82 1416.5,475.47 1268.86,524.82"/><polyline points="1492.82,591.66 1346.13,535.57 1343.95,392.38"/><polyline points="1340.18,591.66 1486.87,535.57 1489.05,392.38"/><polyline points="1565.27,489.5 1416.5,442.49 1267.73,489.5"/><polyline points="1457.01,606.57 1310.37,548.22 1307.01,402.61"/><polyline points="1375.99,606.57 1522.63,548.22 1525.99,402.61"/><polyline points="1566.41,453.64 1416.5,409.05 1266.59,453.64"/><polyline points="1419.68,622.1 1273.22,561.36 1268.6,413.26"/><polyline points="1413.32,622.1 1559.78,561.36 1564.4,413.26"/><polyline points="1567.58,417.22 1416.5,375.12 1265.42,417.22"/></g><g fill="none" stroke="#000" stroke-width="1.25" stroke-linecap="butt" stroke-linejoin="miter"><polyline points="1265.33,414.16 1270.06,562.48 1416.5,623.43 1562.94,562.48"/><polyline points="1558.57,563.01 1564.05,564.95"/><polyline points="1274.43,563.01 1268.95,564.95"/><polyline points="1271.39,560.19 1266.74,558.27"/><polyline points="1525.53,576.74 1531.02,578.76"/><polyline points="1307.47,576.74 1301.98,578.76"/><polyline points="1270.29,525.38 1265.61,523.54"/><polyline points="1491.14,591.02 1496.64,593.13"/><polyline points="1341.86,591.02 1336.36,593.13"/><polyline points="1269.17,490.04 1264.46,488.28"/><polyline points="1455.33,605.9 1460.84,608.09"/><polyline points="1377.67,605.9 1372.16,608.09"/><polyline points="1268.04,454.15 1263.29,452.48"/><polyline points="1418,621.4 1423.51,623.69"/><polyline points="1415,621.4 1409.49,623.69"/><polyline points="1266.89,417.71 1262.11,416.13"/></g><g fill="#f00" stroke="#f00" stroke-width="1.35"><circle cx="1424.6" cy="430.9" r="3.95" fill-opacity="0.56" stroke-opacity="0.95"/><circle cx="1420.7" cy="442.5" r="3.95" fill-opacity="0.56" stroke-opacity="0.95"/><circle cx="1421.5" cy="447.6" r="3.95" fill-opacity="0.56" stroke-opacity="0.95"/><circle cx="1414.5" cy="451.5" r="3.95" fill-opacity="0.56" stroke-opacity="0.95"/><circle cx="1435.3" cy="450.2" r="3.95" fill-opacity="0.46" stroke-opacity="0.79"/><circle cx="1401.4" cy="455.8" r="3.95" fill-opacity="0.56" stroke-opacity="0.95"/><circle cx="1415.6" cy="460" r="3.95" fill-opacity="0.5" stroke-opacity="0.84"/><circle cx="1415.1" cy="468.3" r="3.95" fill-opacity="0.43" stroke-opacity="0.73"/><circle cx="1441.3" cy="470.4" r="3.95" fill-opacity="0.5" stroke-opacity="0.84"/><circle cx="1399.6" cy="479.4" r="3.95" fill-opacity="0.56" stroke-opacity="0.95"/><circle cx="1414.7" cy="482.9" r="3.95" fill-opacity="0.37" stroke-opacity="0.63"/><circle cx="1444.6" cy="488.5" r="3.95" fill-opacity="0.56" stroke-opacity="0.95"/><circle cx="1416" cy="490" r="3.95" fill-opacity="0.43" stroke-opacity="0.73"/><circle cx="1425.4" cy="487.8" r="3.95" fill-opacity="0.4" stroke-opacity="0.68"/><circle cx="1406.1" cy="490.6" r="3.95" fill-opacity="0.5" stroke-opacity="0.84"/><circle cx="1407.4" cy="500.5" r="3.95" fill-opacity="0.93" stroke-opacity="1"/><circle cx="1403.9" cy="527.3" r="3.95" fill-opacity="0.5" stroke-opacity="0.84"/><circle cx="1400.9" cy="559.5" r="3.95" fill-opacity="0.46" stroke-opacity="0.79"/><circle cx="1406.9" cy="570.6" r="3.95" fill-opacity="0.53" stroke-opacity="0.89"/><circle cx="1433.1" cy="519.5" r="3.95" fill-opacity="0.31" stroke-opacity="0.53"/><circle cx="1441.7" cy="547.9" r="3.95" fill-opacity="0.28" stroke-opacity="0.47"/><circle cx="1455.1" cy="556" r="3.95" fill-opacity="0.25" stroke-opacity="0.42"/></g><g fill="none" stroke="#00f" stroke-width="4.2" stroke-linejoin="round" stroke-linecap="butt"><polyline points="1424.6,430.9 1420.7,442.5 1419.4,450.2 1416.4,459.7 1415.1,468.3 1414.7,482.9 1416,488.9"/><polyline points="1401.4,455.8 1418,452.8 1435.3,450.2"/><polyline points="1401.4,455.8 1399.6,479.4 1407.4,500.5"/><polyline points="1435.3,450.2 1441.3,470.4 1444.6,488.5"/><polyline points="1405.9,490.4 1425.4,487.8"/><polyline points="1405.9,490.4 1403.9,527.3 1400.9,559.5 1406.9,570.6"/><polyline points="1425.4,487.8 1433.1,519.5 1441.7,547.9 1455.1,556"/></g></g><g><polygon points="1939.95,510.68 1793.51,562.48 1788.78,414.16 1939.95,372.27" fill="#f2f2f2" stroke="#e9e9e9" stroke-width="1.6" stroke-linejoin="round"/><polygon points="1939.95,510.68 2086.39,562.48 2091.12,414.16 1939.95,372.27" fill="#f9f9f9" stroke="#efefef" stroke-width="1.6" stroke-linejoin="round"/><polygon points="1939.95,510.68 1793.51,562.48 1939.95,623.43 2086.39,562.48" fill="#f5f5f5" stroke="#ececec" stroke-width="1.6" stroke-linejoin="round"/><g fill="none" stroke="#b0b0b0" stroke-width="1.25" stroke-linejoin="round"><polyline points="2083.69,563.6 1937.24,511.63 1937.16,373.05"/><polyline points="1796.21,563.6 1942.66,511.63 1942.74,373.05"/><polyline points="2086.48,559.6 1939.95,507.99 1793.42,559.6"/><polyline points="2050.65,577.35 1904.03,523.38 1902.94,382.53"/><polyline points="1829.25,577.35 1975.87,523.38 1976.96,382.53"/><polyline points="2087.59,524.82 1939.95,475.47 1792.31,524.82"/><polyline points="2016.27,591.66 1869.58,535.57 1867.4,392.38"/><polyline points="1863.63,591.66 2010.32,535.57 2012.5,392.38"/><polyline points="2088.72,489.5 1939.95,442.49 1791.18,489.5"/><polyline points="1980.46,606.57 1833.82,548.22 1830.46,402.61"/><polyline points="1899.44,606.57 2046.08,548.22 2049.44,402.61"/><polyline points="2089.86,453.64 1939.95,409.05 1790.04,453.64"/><polyline points="1943.13,622.1 1796.67,561.36 1792.05,413.26"/><polyline points="1936.77,622.1 2083.23,561.36 2087.85,413.26"/><polyline points="2091.03,417.22 1939.95,375.12 1788.87,417.22"/></g><g fill="none" stroke="#000" stroke-width="1.25" stroke-linecap="butt" stroke-linejoin="miter"><polyline points="1788.78,414.16 1793.51,562.48 1939.95,623.43 2086.39,562.48"/><polyline points="2082.02,563.01 2087.5,564.95"/><polyline points="1797.88,563.01 1792.4,564.95"/><polyline points="1794.84,560.19 1790.19,558.27"/><polyline points="2048.98,576.74 2054.47,578.76"/><polyline points="1830.92,576.74 1825.43,578.76"/><polyline points="1793.74,525.38 1789.06,523.54"/><polyline points="2014.59,591.02 2020.09,593.13"/><polyline points="1865.31,591.02 1859.81,593.13"/><polyline points="1792.62,490.04 1787.91,488.28"/><polyline points="1978.78,605.9 1984.29,608.09"/><polyline points="1901.12,605.9 1895.61,608.09"/><polyline points="1791.49,454.15 1786.74,452.48"/><polyline points="1941.45,621.4 1946.96,623.69"/><polyline points="1938.45,621.4 1932.94,623.69"/><polyline points="1790.34,417.71 1785.56,416.13"/></g><g fill="#f00" stroke="#f00" stroke-width="1.35"><circle cx="1947.9" cy="428.9" r="3.95" fill-opacity="0.56" stroke-opacity="0.95"/><circle cx="1945" cy="441.3" r="3.95" fill-opacity="0.56" stroke-opacity="0.95"/><circle cx="1946" cy="447" r="3.95" fill-opacity="0.56" stroke-opacity="0.95"/><circle cx="1938.5" cy="450.5" r="3.95" fill-opacity="0.56" stroke-opacity="0.95"/><circle cx="1958.4" cy="449" r="3.95" fill-opacity="0.46" stroke-opacity="0.79"/><circle cx="1930.6" cy="456.8" r="3.95" fill-opacity="0.56" stroke-opacity="0.95"/><circle cx="1939.3" cy="460.4" r="3.95" fill-opacity="0.53" stroke-opacity="0.89"/><circle cx="1938.8" cy="468.1" r="3.95" fill-opacity="0.5" stroke-opacity="0.84"/><circle cx="1970.8" cy="468.1" r="3.95" fill-opacity="0.43" stroke-opacity="0.73"/><circle cx="1991.9" cy="473.2" r="3.95" fill-opacity="0.53" stroke-opacity="0.89"/><circle cx="1931.1" cy="480.5" r="3.95" fill-opacity="0.56" stroke-opacity="0.95"/><circle cx="1939.3" cy="481" r="3.95" fill-opacity="0.43" stroke-opacity="0.73"/><circle cx="1940.4" cy="489.7" r="3.95" fill-opacity="0.93" stroke-opacity="1"/><circle cx="1948.6" cy="486.3" r="3.95" fill-opacity="0.43" stroke-opacity="0.73"/><circle cx="1931.1" cy="492" r="3.95" fill-opacity="0.5" stroke-opacity="0.84"/><circle cx="1926.2" cy="526.7" r="3.95" fill-opacity="0.5" stroke-opacity="0.84"/><circle cx="1922" cy="556.6" r="3.95" fill-opacity="0.46" stroke-opacity="0.79"/><circle cx="1931.1" cy="569" r="3.95" fill-opacity="0.5" stroke-opacity="0.84"/><circle cx="1950.7" cy="518.2" r="3.95" fill-opacity="0.28" stroke-opacity="0.47"/><circle cx="1952.2" cy="545.8" r="3.95" fill-opacity="0.25" stroke-opacity="0.42"/><circle cx="1967.7" cy="554" r="3.95" fill-opacity="0.28" stroke-opacity="0.47"/></g><g fill="none" stroke="#00f" stroke-width="4.2" stroke-linejoin="round" stroke-linecap="butt"><polyline points="1947.9,428.9 1945,441.3 1943.5,448 1939.3,458.3 1938.8,467.6 1939.3,481 1940.4,488.2"/><polyline points="1930.6,456.8 1943.5,450.6 1958.4,449"/><polyline points="1930.6,456.8 1931.1,480.5 1940.4,489.2"/><polyline points="1958.4,449 1970.8,468.1 1991.9,473.2"/><polyline points="1931.1,492 1940.4,489.2 1948.6,486.3"/><polyline points="1931.1,492 1926.2,526.7 1922,556.6 1931.1,569"/><polyline points="1948.6,486.3 1950.7,518.2 1952.2,545.8 1967.7,554"/></g></g><g><polygon points="369.6,863.38 223.16,915.18 218.43,766.86 369.6,724.97" fill="#f2f2f2" stroke="#e9e9e9" stroke-width="1.6" stroke-linejoin="round"/><polygon points="369.6,863.38 516.04,915.18 520.77,766.86 369.6,724.97" fill="#f9f9f9" stroke="#efefef" stroke-width="1.6" stroke-linejoin="round"/><polygon points="369.6,863.38 223.16,915.18 369.6,976.13 516.04,915.18" fill="#f5f5f5" stroke="#ececec" stroke-width="1.6" stroke-linejoin="round"/><g fill="none" stroke="#b0b0b0" stroke-width="1.25" stroke-linejoin="round"><polyline points="513.34,916.3 366.89,864.33 366.81,725.75"/><polyline points="225.86,916.3 372.31,864.33 372.39,725.75"/><polyline points="516.13,912.3 369.6,860.69 223.07,912.3"/><polyline points="480.3,930.05 333.68,876.08 332.59,735.23"/><polyline points="258.9,930.05 405.52,876.08 406.61,735.23"/><polyline points="517.24,877.52 369.6,828.17 221.96,877.52"/><polyline points="445.92,944.36 299.23,888.27 297.05,745.08"/><polyline points="293.28,944.36 439.97,888.27 442.15,745.08"/><polyline points="518.37,842.2 369.6,795.19 220.83,842.2"/><polyline points="410.11,959.27 263.47,900.92 260.11,755.31"/><polyline points="329.09,959.27 475.73,900.92 479.09,755.31"/><polyline points="519.51,806.34 369.6,761.75 219.69,806.34"/><polyline points="372.78,974.8 226.32,914.06 221.7,765.96"/><polyline points="366.42,974.8 512.88,914.06 517.5,765.96"/><polyline points="520.68,769.92 369.6,727.82 218.52,769.92"/></g><g fill="none" stroke="#000" stroke-width="1.25" stroke-linecap="butt" stroke-linejoin="miter"><polyline points="218.43,766.86 223.16,915.18 369.6,976.13 516.04,915.18"/><polyline points="511.67,915.71 517.15,917.65"/><polyline points="227.53,915.71 222.05,917.65"/><polyline points="224.49,912.89 219.84,910.97"/><polyline points="478.63,929.44 484.12,931.46"/><polyline points="260.57,929.44 255.08,931.46"/><polyline points="223.39,878.08 218.71,876.24"/><polyline points="444.24,943.72 449.74,945.83"/><polyline points="294.96,943.72 289.46,945.83"/><polyline points="222.27,842.74 217.56,840.98"/><polyline points="408.43,958.6 413.94,960.79"/><polyline points="330.77,958.6 325.26,960.79"/><polyline points="221.14,806.85 216.39,805.18"/><polyline points="371.1,974.1 376.61,976.39"/><polyline points="368.1,974.1 362.59,976.39"/><polyline points="219.99,770.41 215.21,768.83"/></g><g fill="#f00" stroke="#f00" stroke-width="1.35"><circle cx="381.6" cy="779.2" r="3.95" fill-opacity="0.56" stroke-opacity="0.95"/><circle cx="377.4" cy="792.5" r="3.95" fill-opacity="0.56" stroke-opacity="0.95"/><circle cx="375.8" cy="798.5" r="3.95" fill-opacity="0.56" stroke-opacity="0.95"/><circle cx="388.6" cy="799.8" r="3.95" fill-opacity="0.46" stroke-opacity="0.79"/><circle cx="372" cy="803.5" r="3.95" fill-opacity="0.56" stroke-opacity="0.95"/><circle cx="365.4" cy="810.4" r="3.95" fill-opacity="0.59" stroke-opacity="1"/><circle cx="372" cy="812.5" r="3.95" fill-opacity="0.53" stroke-opacity="0.89"/><circle cx="370.5" cy="822.2" r="3.95" fill-opacity="0.5" stroke-opacity="0.84"/><circle cx="398.6" cy="821.2" r="3.95" fill-opacity="0.43" stroke-opacity="0.73"/><circle cx="414.8" cy="836.6" r="3.95" fill-opacity="0.5" stroke-opacity="0.84"/><circle cx="364.3" cy="835.1" r="3.95" fill-opacity="0.59" stroke-opacity="1"/><circle cx="369.5" cy="836.1" r="3.95" fill-opacity="0.5" stroke-opacity="0.84"/><circle cx="370.5" cy="842.8" r="3.95" fill-opacity="0.5" stroke-opacity="0.84"/><circle cx="376.7" cy="838.6" r="3.95" fill-opacity="0.43" stroke-opacity="0.73"/><circle cx="361.5" cy="845" r="3.95" fill-opacity="0.53" stroke-opacity="0.89"/><circle cx="385.5" cy="849.5" r="3.95" fill-opacity="0.93" stroke-opacity="1"/><circle cx="357.1" cy="880.2" r="3.95" fill-opacity="0.5" stroke-opacity="0.84"/><circle cx="351.8" cy="910.6" r="3.95" fill-opacity="0.46" stroke-opacity="0.79"/><circle cx="356.9" cy="924.5" r="3.95" fill-opacity="0.53" stroke-opacity="0.89"/><circle cx="379.1" cy="869.3" r="3.95" fill-opacity="0.31" stroke-opacity="0.53"/><circle cx="381.6" cy="896.6" r="3.95" fill-opacity="0.25" stroke-opacity="0.42"/><circle cx="393.7" cy="908.3" r="3.95" fill-opacity="0.28" stroke-opacity="0.47"/></g><g fill="none" stroke="#00f" stroke-width="4.2" stroke-linejoin="round" stroke-linecap="butt"><polyline points="381.6,779.2 377.2,793.4 374.6,801.1 371.5,811.4 370,821.7 369.3,836.1 370.5,841.8"/><polyline points="374.6,802.5 388.6,799.8 398.6,821.2 414.8,836.6"/><polyline points="374.6,802.5 365.4,810.4 364.3,835.1 385.5,849.5"/><polyline points="376.7,838.6 370.5,841.8 361.5,845 357.1,880.2 351.8,910.6 356.9,924.5"/><polyline points="376.7,838.6 379.1,869.3 381.6,896.6 393.7,908.3"/></g></g><g><polygon points="893.05,863.38 746.61,915.18 741.88,766.86 893.05,724.97" fill="#f2f2f2" stroke="#e9e9e9" stroke-width="1.6" stroke-linejoin="round"/><polygon points="893.05,863.38 1039.49,915.18 1044.22,766.86 893.05,724.97" fill="#f9f9f9" stroke="#efefef" stroke-width="1.6" stroke-linejoin="round"/><polygon points="893.05,863.38 746.61,915.18 893.05,976.13 1039.49,915.18" fill="#f5f5f5" stroke="#ececec" stroke-width="1.6" stroke-linejoin="round"/><g fill="none" stroke="#b0b0b0" stroke-width="1.25" stroke-linejoin="round"><polyline points="1036.79,916.3 890.34,864.33 890.26,725.75"/><polyline points="749.31,916.3 895.76,864.33 895.84,725.75"/><polyline points="1039.58,912.3 893.05,860.69 746.52,912.3"/><polyline points="1003.75,930.05 857.13,876.08 856.04,735.23"/><polyline points="782.35,930.05 928.97,876.08 930.06,735.23"/><polyline points="1040.69,877.52 893.05,828.17 745.41,877.52"/><polyline points="969.37,944.36 822.68,888.27 820.5,745.08"/><polyline points="816.73,944.36 963.42,888.27 965.6,745.08"/><polyline points="1041.82,842.2 893.05,795.19 744.28,842.2"/><polyline points="933.56,959.27 786.92,900.92 783.56,755.31"/><polyline points="852.54,959.27 999.18,900.92 1002.54,755.31"/><polyline points="1042.96,806.34 893.05,761.75 743.14,806.34"/><polyline points="896.23,974.8 749.77,914.06 745.15,765.96"/><polyline points="889.87,974.8 1036.33,914.06 1040.95,765.96"/><polyline points="1044.13,769.92 893.05,727.82 741.97,769.92"/></g><g fill="none" stroke="#000" stroke-width="1.25" stroke-linecap="butt" stroke-linejoin="miter"><polyline points="741.88,766.86 746.61,915.18 893.05,976.13 1039.49,915.18"/><polyline points="1035.12,915.71 1040.6,917.65"/><polyline points="750.98,915.71 745.5,917.65"/><polyline points="747.94,912.89 743.29,910.97"/><polyline points="1002.08,929.44 1007.57,931.46"/><polyline points="784.02,929.44 778.53,931.46"/><polyline points="746.84,878.08 742.16,876.24"/><polyline points="967.69,943.72 973.19,945.83"/><polyline points="818.41,943.72 812.91,945.83"/><polyline points="745.72,842.74 741.01,840.98"/><polyline points="931.88,958.6 937.39,960.79"/><polyline points="854.22,958.6 848.71,960.79"/><polyline points="744.59,806.85 739.84,805.18"/><polyline points="894.55,974.1 900.06,976.39"/><polyline points="891.55,974.1 886.04,976.39"/><polyline points="743.44,770.41 738.66,768.83"/></g><g fill="#f00" stroke="#f00" stroke-width="1.35"><circle cx="963.3" cy="783" r="3.95" fill-opacity="0.56" stroke-opacity="0.95"/><circle cx="947.5" cy="795.4" r="3.95" fill-opacity="0.56" stroke-opacity="0.95"/><circle cx="941.9" cy="800.6" r="3.95" fill-opacity="0.56" stroke-opacity="0.95"/><circle cx="937.2" cy="796" r="3.95" fill-opacity="0.28" stroke-opacity="0.47"/><circle cx="935.7" cy="804.2" r="3.95" fill-opacity="0.56" stroke-opacity="0.95"/><circle cx="921.2" cy="812.9" r="3.95" fill-opacity="0.53" stroke-opacity="0.89"/><circle cx="909.9" cy="821.7" r="3.95" fill-opacity="0.53" stroke-opacity="0.89"/><circle cx="896" cy="835.1" r="3.95" fill-opacity="0.53" stroke-opacity="0.89"/><circle cx="892.5" cy="841.5" r="3.95" fill-opacity="0.5" stroke-opacity="0.84"/><circle cx="890.8" cy="847.5" r="3.95" fill-opacity="0.53" stroke-opacity="0.89"/><circle cx="936.7" cy="813" r="3.95" fill-opacity="0.59" stroke-opacity="1"/><circle cx="958.9" cy="831.5" r="3.95" fill-opacity="0.59" stroke-opacity="1"/><circle cx="988.8" cy="836.4" r="3.95" fill-opacity="0.93" stroke-opacity="1"/><circle cx="943.1" cy="836.1" r="3.95" fill-opacity="0.25" stroke-opacity="0.42"/><circle cx="890.1" cy="891.2" r="3.95" fill-opacity="0.59" stroke-opacity="1"/><circle cx="887.3" cy="930.4" r="3.95" fill-opacity="0.56" stroke-opacity="0.95"/><circle cx="897.1" cy="943.8" r="3.95" fill-opacity="0.93" stroke-opacity="1"/><circle cx="909" cy="871.6" r="3.95" fill-opacity="0.31" stroke-opacity="0.53"/><circle cx="926" cy="904.6" r="3.95" fill-opacity="0.31" stroke-opacity="0.53"/><circle cx="945.6" cy="909" r="3.95" fill-opacity="0.34" stroke-opacity="0.58"/></g><g fill="none" stroke="#00f" stroke-width="4.2" stroke-linejoin="round" stroke-linecap="butt"><polyline points="963.3,783 947.5,795.4 935.7,804.2 921.2,812.9 909.9,821.7 895.5,836.1 890.8,847.5 890.1,891.2 887.3,930.4 897.1,943.8"/><polyline points="937.2,796 935.7,805.2 936.2,812.9 943.1,836.1"/><polyline points="935.7,805.2 958.9,831.5 988.8,836.4"/><polyline points="895.5,836.1 909,871.6 926,904.6 945.6,909"/></g></g><g><polygon points="1416.5,863.38 1270.06,915.18 1265.33,766.86 1416.5,724.97" fill="#f2f2f2" stroke="#e9e9e9" stroke-width="1.6" stroke-linejoin="round"/><polygon points="1416.5,863.38 1562.94,915.18 1567.67,766.86 1416.5,724.97" fill="#f9f9f9" stroke="#efefef" stroke-width="1.6" stroke-linejoin="round"/><polygon points="1416.5,863.38 1270.06,915.18 1416.5,976.13 1562.94,915.18" fill="#f5f5f5" stroke="#ececec" stroke-width="1.6" stroke-linejoin="round"/><g fill="none" stroke="#b0b0b0" stroke-width="1.25" stroke-linejoin="round"><polyline points="1560.24,916.3 1413.79,864.33 1413.71,725.75"/><polyline points="1272.76,916.3 1419.21,864.33 1419.29,725.75"/><polyline points="1563.03,912.3 1416.5,860.69 1269.97,912.3"/><polyline points="1527.2,930.05 1380.58,876.08 1379.49,735.23"/><polyline points="1305.8,930.05 1452.42,876.08 1453.51,735.23"/><polyline points="1564.14,877.52 1416.5,828.17 1268.86,877.52"/><polyline points="1492.82,944.36 1346.13,888.27 1343.95,745.08"/><polyline points="1340.18,944.36 1486.87,888.27 1489.05,745.08"/><polyline points="1565.27,842.2 1416.5,795.19 1267.73,842.2"/><polyline points="1457.01,959.27 1310.37,900.92 1307.01,755.31"/><polyline points="1375.99,959.27 1522.63,900.92 1525.99,755.31"/><polyline points="1566.41,806.34 1416.5,761.75 1266.59,806.34"/><polyline points="1419.68,974.8 1273.22,914.06 1268.6,765.96"/><polyline points="1413.32,974.8 1559.78,914.06 1564.4,765.96"/><polyline points="1567.58,769.92 1416.5,727.82 1265.42,769.92"/></g><g fill="none" stroke="#000" stroke-width="1.25" stroke-linecap="butt" stroke-linejoin="miter"><polyline points="1265.33,766.86 1270.06,915.18 1416.5,976.13 1562.94,915.18"/><polyline points="1558.57,915.71 1564.05,917.65"/><polyline points="1274.43,915.71 1268.95,917.65"/><polyline points="1271.39,912.89 1266.74,910.97"/><polyline points="1525.53,929.44 1531.02,931.46"/><polyline points="1307.47,929.44 1301.98,931.46"/><polyline points="1270.29,878.08 1265.61,876.24"/><polyline points="1491.14,943.72 1496.64,945.83"/><polyline points="1341.86,943.72 1336.36,945.83"/><polyline points="1269.17,842.74 1264.46,840.98"/><polyline points="1455.33,958.6 1460.84,960.79"/><polyline points="1377.67,958.6 1372.16,960.79"/><polyline points="1268.04,806.85 1263.29,805.18"/><polyline points="1418,974.1 1423.51,976.39"/><polyline points="1415,974.1 1409.49,976.39"/><polyline points="1266.89,770.41 1262.11,768.83"/></g><g fill="#f00" stroke="#f00" stroke-width="1.35"><circle cx="1425.8" cy="783.5" r="3.95" fill-opacity="0.59" stroke-opacity="1"/><circle cx="1421.1" cy="796.8" r="3.95" fill-opacity="0.56" stroke-opacity="0.95"/><circle cx="1421.5" cy="802.8" r="3.95" fill-opacity="0.56" stroke-opacity="0.95"/><circle cx="1414.5" cy="805.5" r="3.95" fill-opacity="0.56" stroke-opacity="0.95"/><circle cx="1435.3" cy="800.7" r="3.95" fill-opacity="0.5" stroke-opacity="0.84"/><circle cx="1403.9" cy="811.8" r="3.95" fill-opacity="0.59" stroke-opacity="1"/><circle cx="1416.8" cy="813.1" r="3.95" fill-opacity="0.5" stroke-opacity="0.84"/><circle cx="1415.5" cy="821.7" r="3.95" fill-opacity="0.43" stroke-opacity="0.73"/><circle cx="1440.9" cy="823.4" r="3.95" fill-opacity="0.53" stroke-opacity="0.89"/><circle cx="1403.1" cy="834.6" r="3.95" fill-opacity="0.59" stroke-opacity="1"/><circle cx="1415.5" cy="835" r="3.95" fill-opacity="0.37" stroke-opacity="0.63"/><circle cx="1439.8" cy="841" r="3.95" fill-opacity="0.93" stroke-opacity="1"/><circle cx="1416.8" cy="842.5" r="3.95" fill-opacity="0.43" stroke-opacity="0.73"/><circle cx="1426.3" cy="839.6" r="3.95" fill-opacity="0.43" stroke-opacity="0.73"/><circle cx="1406.5" cy="842.8" r="3.95" fill-opacity="0.5" stroke-opacity="0.84"/><circle cx="1406.6" cy="856" r="3.95" fill-opacity="0.93" stroke-opacity="1"/><circle cx="1403.9" cy="878.5" r="3.95" fill-opacity="0.5" stroke-opacity="0.84"/><circle cx="1400.1" cy="910.8" r="3.95" fill-opacity="0.46" stroke-opacity="0.79"/><circle cx="1412.1" cy="922.4" r="3.95" fill-opacity="0.53" stroke-opacity="0.89"/><circle cx="1431.9" cy="871.2" r="3.95" fill-opacity="0.28" stroke-opacity="0.47"/><circle cx="1438.7" cy="900" r="3.95" fill-opacity="0.25" stroke-opacity="0.42"/><circle cx="1454.6" cy="907.7" r="3.95" fill-opacity="0.25" stroke-opacity="0.42"/></g><g fill="none" stroke="#00f" stroke-width="4.2" stroke-linejoin="round" stroke-linecap="butt"><polyline points="1425.8,783.5 1421.1,796.8 1419,802.8 1416.8,813.1 1415.5,821.7 1415.5,835 1416.8,841.5"/><polyline points="1403.9,811.8 1418.1,804.5 1435.3,800.7"/><polyline points="1403.9,811.8 1403.1,834.6 1406.6,856"/><polyline points="1435.3,800.7 1440.9,823.4 1439.8,841"/><polyline points="1406.3,842.6 1426.3,839.6"/><polyline points="1406.3,842.6 1403.9,878.5 1400.1,910.8 1412.1,922.4"/><polyline points="1426.3,839.6 1431.9,871.2 1438.7,900 1454.6,907.7"/></g></g><g><polygon points="1939.95,863.38 1793.51,915.18 1788.78,766.86 1939.95,724.97" fill="#f2f2f2" stroke="#e9e9e9" stroke-width="1.6" stroke-linejoin="round"/><polygon points="1939.95,863.38 2086.39,915.18 2091.12,766.86 1939.95,724.97" fill="#f9f9f9" stroke="#efefef" stroke-width="1.6" stroke-linejoin="round"/><polygon points="1939.95,863.38 1793.51,915.18 1939.95,976.13 2086.39,915.18" fill="#f5f5f5" stroke="#ececec" stroke-width="1.6" stroke-linejoin="round"/><g fill="none" stroke="#b0b0b0" stroke-width="1.25" stroke-linejoin="round"><polyline points="2083.69,916.3 1937.24,864.33 1937.16,725.75"/><polyline points="1796.21,916.3 1942.66,864.33 1942.74,725.75"/><polyline points="2086.48,912.3 1939.95,860.69 1793.42,912.3"/><polyline points="2050.65,930.05 1904.03,876.08 1902.94,735.23"/><polyline points="1829.25,930.05 1975.87,876.08 1976.96,735.23"/><polyline points="2087.59,877.52 1939.95,828.17 1792.31,877.52"/><polyline points="2016.27,944.36 1869.58,888.27 1867.4,745.08"/><polyline points="1863.63,944.36 2010.32,888.27 2012.5,745.08"/><polyline points="2088.72,842.2 1939.95,795.19 1791.18,842.2"/><polyline points="1980.46,959.27 1833.82,900.92 1830.46,755.31"/><polyline points="1899.44,959.27 2046.08,900.92 2049.44,755.31"/><polyline points="2089.86,806.34 1939.95,761.75 1790.04,806.34"/><polyline points="1943.13,974.8 1796.67,914.06 1792.05,765.96"/><polyline points="1936.77,974.8 2083.23,914.06 2087.85,765.96"/><polyline points="2091.03,769.92 1939.95,727.82 1788.87,769.92"/></g><g fill="none" stroke="#000" stroke-width="1.25" stroke-linecap="butt" stroke-linejoin="miter"><polyline points="1788.78,766.86 1793.51,915.18 1939.95,976.13 2086.39,915.18"/><polyline points="2082.02,915.71 2087.5,917.65"/><polyline points="1797.88,915.71 1792.4,917.65"/><polyline points="1794.84,912.89 1790.19,910.97"/><polyline points="2048.98,929.44 2054.47,931.46"/><polyline points="1830.92,929.44 1825.43,931.46"/><polyline points="1793.74,878.08 1789.06,876.24"/><polyline points="2014.59,943.72 2020.09,945.83"/><polyline points="1865.31,943.72 1859.81,945.83"/><polyline points="1792.62,842.74 1787.91,840.98"/><polyline points="1978.78,958.6 1984.29,960.79"/><polyline points="1901.12,958.6 1895.61,960.79"/><polyline points="1791.49,806.85 1786.74,805.18"/><polyline points="1941.45,974.1 1946.96,976.39"/><polyline points="1938.45,974.1 1932.94,976.39"/><polyline points="1790.34,770.41 1785.56,768.83"/></g><g fill="#f00" stroke="#f00" stroke-width="1.35"><circle cx="1947.6" cy="779.4" r="3.95" fill-opacity="0.56" stroke-opacity="0.95"/><circle cx="1944.5" cy="793.4" r="3.95" fill-opacity="0.56" stroke-opacity="0.95"/><circle cx="1945.5" cy="799.5" r="3.95" fill-opacity="0.56" stroke-opacity="0.95"/><circle cx="1938.5" cy="803.5" r="3.95" fill-opacity="0.56" stroke-opacity="0.95"/><circle cx="1957.4" cy="800.6" r="3.95" fill-opacity="0.46" stroke-opacity="0.79"/><circle cx="1929.5" cy="809.3" r="3.95" fill-opacity="0.56" stroke-opacity="0.95"/><circle cx="1940.4" cy="812.4" r="3.95" fill-opacity="0.53" stroke-opacity="0.89"/><circle cx="1939.3" cy="821.7" r="3.95" fill-opacity="0.5" stroke-opacity="0.84"/><circle cx="1968.2" cy="821.2" r="3.95" fill-opacity="0.43" stroke-opacity="0.73"/><circle cx="1988.3" cy="826.9" r="3.95" fill-opacity="0.53" stroke-opacity="0.89"/><circle cx="1932.6" cy="832.5" r="3.95" fill-opacity="0.56" stroke-opacity="0.95"/><circle cx="1939.3" cy="835.6" r="3.95" fill-opacity="0.46" stroke-opacity="0.79"/><circle cx="1940.4" cy="842.3" r="3.95" fill-opacity="0.5" stroke-opacity="0.84"/><circle cx="1948.6" cy="838.4" r="3.95" fill-opacity="0.43" stroke-opacity="0.73"/><circle cx="1931.6" cy="844" r="3.95" fill-opacity="0.5" stroke-opacity="0.84"/><circle cx="1942.9" cy="851.6" r="3.95" fill-opacity="0.93" stroke-opacity="1"/><circle cx="1927.5" cy="877.2" r="3.95" fill-opacity="0.5" stroke-opacity="0.84"/><circle cx="1922.8" cy="908.1" r="3.95" fill-opacity="0.43" stroke-opacity="0.73"/><circle cx="1932.3" cy="920.5" r="3.95" fill-opacity="0.5" stroke-opacity="0.84"/><circle cx="1951.2" cy="870.5" r="3.95" fill-opacity="0.28" stroke-opacity="0.47"/><circle cx="1952.7" cy="897.8" r="3.95" fill-opacity="0.25" stroke-opacity="0.42"/><circle cx="1967.7" cy="907.1" r="3.95" fill-opacity="0.28" stroke-opacity="0.47"/></g><g fill="none" stroke="#00f" stroke-width="4.2" stroke-linejoin="round" stroke-linecap="butt"><polyline points="1947.6,779.4 1944.5,793.4 1942.9,800.1 1940.4,812.4 1939.3,821.7 1939.3,835.1 1940.9,841.8"/><polyline points="1929.5,809.3 1943.4,803.7 1957.4,800.6"/><polyline points="1929.5,809.3 1932.6,832.5 1942.9,851.6"/><polyline points="1957.4,800.6 1968.2,821.2 1988.3,826.9"/><polyline points="1931.6,844 1940.9,841.8 1948.6,838.4"/><polyline points="1931.6,844 1927.5,877.2 1922.8,908.1 1932.3,920.5"/><polyline points="1948.6,838.4 1951.2,870.5 1952.7,897.8 1967.7,907.1"/></g></g><g filter="url(#gs)"><g font-size="27.1" text-anchor="middle"><text x="179.4" y="438.02">1.0</text><text x="182.55" y="509.92">0.0</text><text x="185.65" y="579.82">-1.0</text><text x="205.9" y="609.92">-1.0</text><text x="272.6" y="640.12">0.0</text><text x="345.6" y="673.12">1.0</text><text x="393.6" y="673.12">1.0</text><text x="466.7" y="640.12">0.0</text><text x="532.6" y="609.92">-1.0</text></g><g font-size="29.7" text-anchor="middle"><text transform="translate(235.2,667.9) rotate(23.2)" y="9.36">Forward (Z)</text><text transform="translate(502.3,666.9) rotate(-23.2)" y="8.17">Right (X)</text><text transform="translate(115.4,489.05) rotate(90)" y="8.17">Up (Y)</text></g><g font-size="27.1" text-anchor="middle"><text x="702.85" y="438.02">1.0</text><text x="706" y="509.92">0.0</text><text x="709.1" y="579.82">-1.0</text><text x="729.35" y="609.92">-1.0</text><text x="796.05" y="640.12">0.0</text><text x="869.05" y="673.12">1.0</text><text x="917.05" y="673.12">1.0</text><text x="990.15" y="640.12">0.0</text><text x="1056.05" y="609.92">-1.0</text></g><g font-size="29.7" text-anchor="middle"><text transform="translate(758.65,667.9) rotate(23.2)" y="9.36">Forward (Z)</text><text transform="translate(1025.75,666.9) rotate(-23.2)" y="8.17">Right (X)</text><text transform="translate(638.85,489.05) rotate(90)" y="8.17">Up (Y)</text></g><g font-size="27.1" text-anchor="middle"><text x="1226.3" y="438.02">1.0</text><text x="1229.45" y="509.92">0.0</text><text x="1232.55" y="579.82">-1.0</text><text x="1252.8" y="609.92">-1.0</text><text x="1319.5" y="640.12">0.0</text><text x="1392.5" y="673.12">1.0</text><text x="1440.5" y="673.12">1.0</text><text x="1513.6" y="640.12">0.0</text><text x="1579.5" y="609.92">-1.0</text></g><g font-size="29.7" text-anchor="middle"><text transform="translate(1282.1,667.9) rotate(23.2)" y="9.36">Forward (Z)</text><text transform="translate(1549.2,666.9) rotate(-23.2)" y="8.17">Right (X)</text><text transform="translate(1162.3,489.05) rotate(90)" y="8.17">Up (Y)</text></g><g font-size="27.1" text-anchor="middle"><text x="1749.75" y="438.02">1.0</text><text x="1752.9" y="509.92">0.0</text><text x="1756" y="579.82">-1.0</text><text x="1776.25" y="609.92">-1.0</text><text x="1842.95" y="640.12">0.0</text><text x="1915.95" y="673.12">1.0</text><text x="1963.95" y="673.12">1.0</text><text x="2037.05" y="640.12">0.0</text><text x="2102.95" y="609.92">-1.0</text></g><g font-size="29.7" text-anchor="middle"><text transform="translate(1805.55,667.9) rotate(23.2)" y="9.36">Forward (Z)</text><text transform="translate(2072.65,666.9) rotate(-23.2)" y="8.17">Right (X)</text><text transform="translate(1685.75,489.05) rotate(90)" y="8.17">Up (Y)</text></g><g font-size="27.1" text-anchor="middle"><text x="179.4" y="790.72">1.0</text><text x="182.55" y="862.62">0.0</text><text x="185.65" y="932.52">-1.0</text><text x="205.9" y="962.62">-1.0</text><text x="272.6" y="992.82">0.0</text><text x="345.6" y="1025.82">1.0</text><text x="393.6" y="1025.82">1.0</text><text x="466.7" y="992.82">0.0</text><text x="532.6" y="962.62">-1.0</text></g><g font-size="29.7" text-anchor="middle"><text transform="translate(235.2,1020.6) rotate(23.2)" y="9.36">Forward (Z)</text><text transform="translate(502.3,1019.6) rotate(-23.2)" y="8.17">Right (X)</text><text transform="translate(115.4,841.75) rotate(90)" y="8.17">Up (Y)</text></g><g font-size="27.1" text-anchor="middle"><text x="702.85" y="790.72">1.0</text><text x="706" y="862.62">0.0</text><text x="709.1" y="932.52">-1.0</text><text x="729.35" y="962.62">-1.0</text><text x="796.05" y="992.82">0.0</text><text x="869.05" y="1025.82">1.0</text><text x="917.05" y="1025.82">1.0</text><text x="990.15" y="992.82">0.0</text><text x="1056.05" y="962.62">-1.0</text></g><g font-size="29.7" text-anchor="middle"><text transform="translate(758.65,1020.6) rotate(23.2)" y="9.36">Forward (Z)</text><text transform="translate(1025.75,1019.6) rotate(-23.2)" y="8.17">Right (X)</text><text transform="translate(638.85,841.75) rotate(90)" y="8.17">Up (Y)</text></g><g font-size="27.1" text-anchor="middle"><text x="1226.3" y="790.72">1.0</text><text x="1229.45" y="862.62">0.0</text><text x="1232.55" y="932.52">-1.0</text><text x="1252.8" y="962.62">-1.0</text><text x="1319.5" y="992.82">0.0</text><text x="1392.5" y="1025.82">1.0</text><text x="1440.5" y="1025.82">1.0</text><text x="1513.6" y="992.82">0.0</text><text x="1579.5" y="962.62">-1.0</text></g><g font-size="29.7" text-anchor="middle"><text transform="translate(1282.1,1020.6) rotate(23.2)" y="9.36">Forward (Z)</text><text transform="translate(1549.2,1019.6) rotate(-23.2)" y="8.17">Right (X)</text><text transform="translate(1162.3,841.75) rotate(90)" y="8.17">Up (Y)</text></g><g font-size="27.1" text-anchor="middle"><text x="1749.75" y="790.72">1.0</text><text x="1752.9" y="862.62">0.0</text><text x="1756" y="932.52">-1.0</text><text x="1776.25" y="962.62">-1.0</text><text x="1842.95" y="992.82">0.0</text><text x="1915.95" y="1025.82">1.0</text><text x="1963.95" y="1025.82">1.0</text><text x="2037.05" y="992.82">0.0</text><text x="2102.95" y="962.62">-1.0</text></g><g font-size="29.7" text-anchor="middle"><text transform="translate(1805.55,1020.6) rotate(23.2)" y="9.36">Forward (Z)</text><text transform="translate(2072.65,1019.6) rotate(-23.2)" y="8.17">Right (X)</text><text transform="translate(1685.75,841.75) rotate(90)" y="8.17">Up (Y)</text></g><g font-size="35.15" font-weight="bold" text-anchor="middle"><text transform="translate(36.2,146.3) rotate(-90)">Visual Input</text><text transform="translate(36.2,499.5) rotate(-90)">Predicted</text><text transform="translate(36.2,853.9) rotate(-90)">Ground Truth</text></g><g font-size="32.6" text-anchor="middle"><text x="366.2" y="1148">Error: 20.7 mm</text><text x="889.65" y="1148">Error: 36.5 mm</text><text x="1413.1" y="1148">Error: 24.2 mm</text><text x="1936.55" y="1148">Error: 23.7 mm</text></g></g></svg></body></html>
